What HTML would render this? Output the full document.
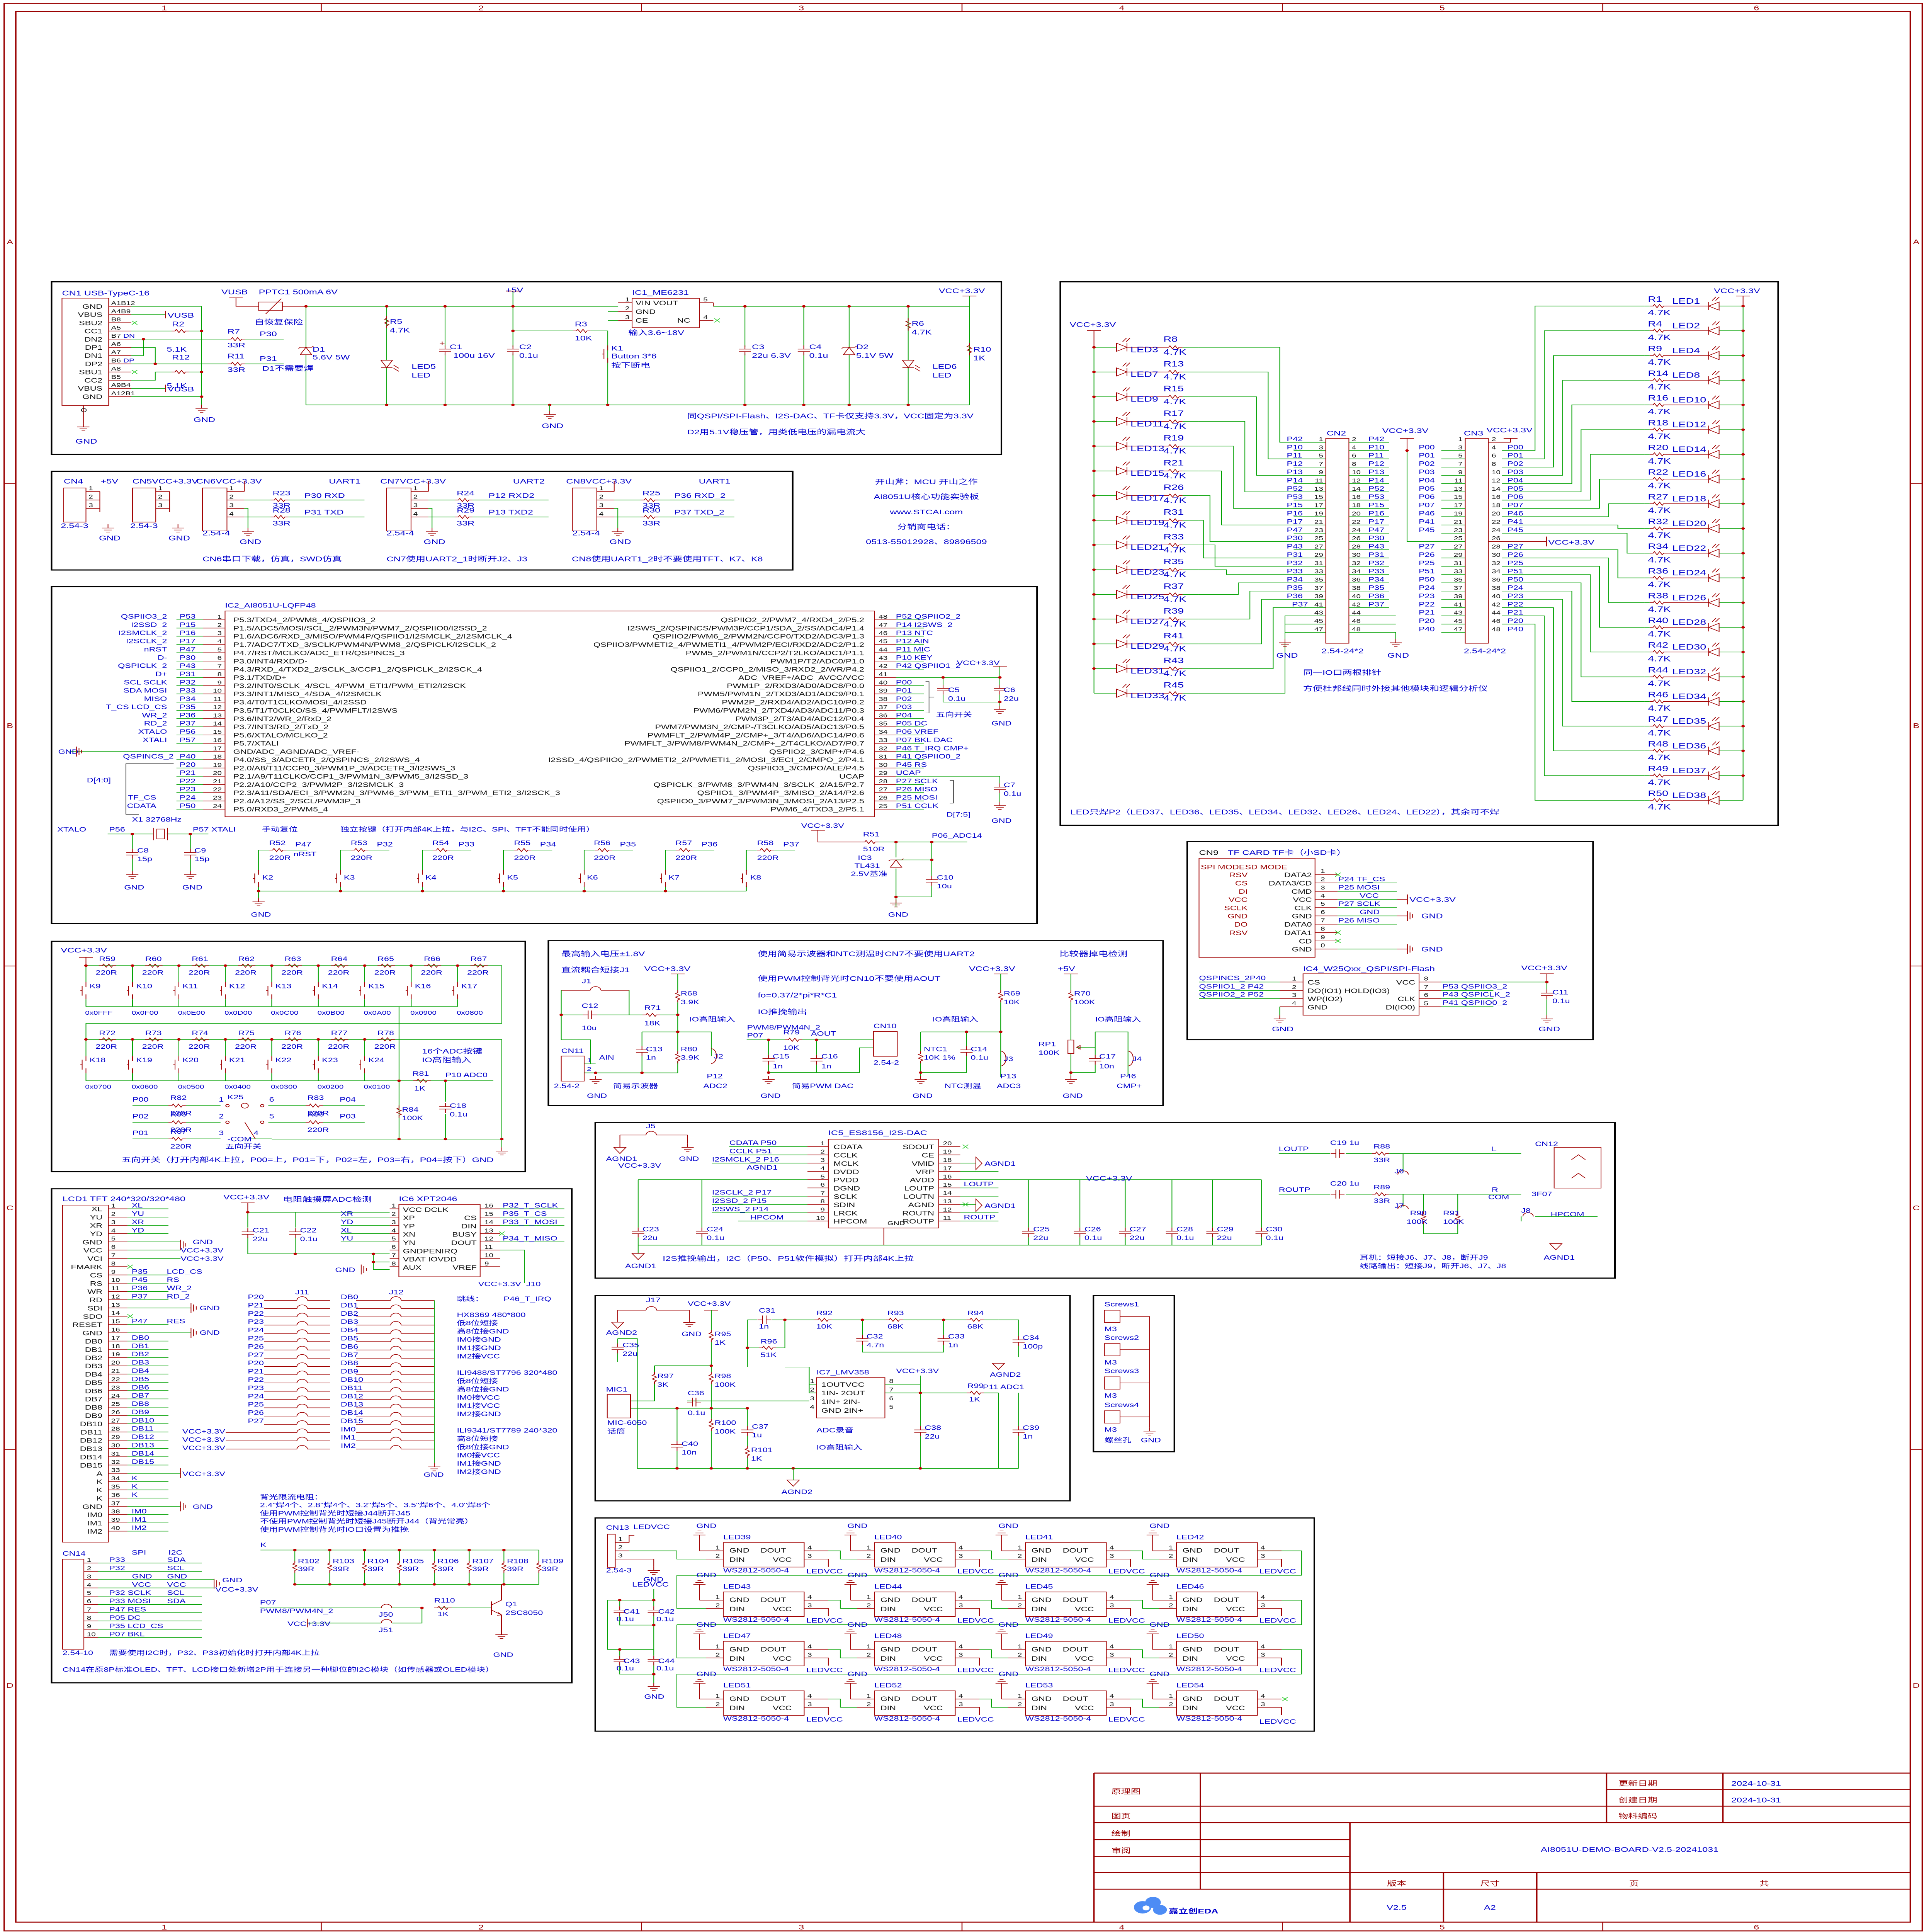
<!DOCTYPE html>
<html><head><meta charset="utf-8"><title>AI8051U-DEMO-BOARD-V2.5</title>
<style>
html,body{margin:0;padding:0;background:#fff;width:100%;height:100%;overflow:hidden}
svg{display:block;position:fixed;left:0;top:0;width:100vw;height:100vh}
.c{stroke:#a00000;stroke-width:.45;fill:none}
.cf{stroke:#a00000;stroke-width:.45;fill:#fff}
.w{stroke:#00a000;stroke-width:.45;fill:none}
.k{stroke:#000;stroke-width:.9;fill:none}
.kk{stroke:#000;stroke-width:.35;fill:none}
.f{stroke:#990000;stroke-width:.8;fill:none}
.f2{stroke:#990000;stroke-width:.55;fill:none}
.x{stroke:#33cc33;stroke-width:.45;fill:none}
text{font-family:"Liberation Sans","Noto Sans CJK SC",sans-serif;fill:#0000cc;font-size:5.6px}
.p{fill:#111}
.r{fill:#990000}
.s{font-size:4.6px}
.m{font-size:5.2px}
.e{text-anchor:end}
.mid{text-anchor:middle}
.big{font-size:6.4px}
</style></head>
<body><svg xmlns="http://www.w3.org/2000/svg" xmlns:xlink="http://www.w3.org/1999/xlink" viewBox="0 0 1108 1566" preserveAspectRatio="none">
<defs>
<path id="rh" class="c" d="M0 0h2l.75-1.3 1.5 2.6 1.5-2.6 1.5 2.6.75-1.3h2"/>
<path id="rv" class="c" d="M0 0v2l-1.3.75 2.6 1.5-2.6 1.5 2.6 1.5-1.3.75v2"/>
<path id="gnd" class="c" d="M0 0v3M-3.5 3h7M-2.2 4.6h4.4M-1 6.2h2"/>
<path id="capv" class="c" d="M0 -4v3M-3.5 -1h7M-3.5 1h7M0 1v3"/>
<path id="caph" class="c" d="M-4 0h3M-1 -3.5v7M1 -3.5v7M1 0h3"/>
<circle id="dot" r="1" fill="#c00000"/>
<g id="ledr"><path class="cf" d="M0 -3.3L6 0 0 3.3Z"/><path class="c" d="M6 -3.3v6.6M3.5 -4.5l2.2-3M5.5 -4.5l2.2-3"/></g>
<g id="ledl"><path class="cf" d="M6 -3.3L0 0 6 3.3Z"/><path class="c" d="M0 -3.3v6.6M2 -4.5l2.2-3M4 -4.5l2.2-3"/></g>
<g id="ledd"><path class="cf" d="M-3.3 0L0 6 3.3 0Z"/><path class="c" d="M-3.3 6h6.6M4 4l3 2.5M4 6.5l3 2.5"/></g>
<g id="zen"><path class="cf" d="M-3.3 3L0 -3 3.3 3Z"/><path class="c" d="M-3.3 -3h6.6l1 -1M-3.3 -3l-1 1"/></g>
<path id="sw" class="c" d="M0 0v4M-2.2 3v8M0 10v4M-2.2 7h-1"/>
<path id="gbar" class="c" d="M0 -4v8M1.5 -2.8v5.6M3 -1.4v2.8"/>
<path id="xx" class="x" d="M-1.6 -1.6l3.2 3.2M1.6 -1.6l-3.2 3.2"/>
<path id="tri" class="c" d="M-3.5 0h7L0 5Z"/>
<path id="jmp" class="c" d="M-3 0a3 3 0 0 1 6 0"/>
<g id="ws"><rect class="c" x="416.5" y="1250.3" width="46.6" height="19.9"/><path class="c" d="M402.8 1257H416.5M406.5 1263.7H416.5M402.8 1244.2V1257M463.1 1257H477M463.1 1263.7H477V1270M399.3 1244.2h7M400.5 1242.6h4.6M401.7 1241h2.2"/></g>
</defs>
<rect width="1108" height="1566" fill="#fff"/>

<!-- FRAME -->
<rect class="f" x="2.4" y="2.7" width="1104.6" height="1562.4"/>
<rect class="f" x="9.1" y="9.3" width="1091" height="1548.7"/>
<path class="f2" d="M185 2.7V9.3M369.5 2.7V9.3M554 2.7V9.3M738.5 2.7V9.3M923 2.7V9.3M185 1558V1565M369.5 1558V1565M554 1558V1565M738.5 1558V1565M923 1558V1565M2.4 392H9.1M2.4 783H9.1M2.4 1175H9.1M1100 392H1107M1100 783H1107M1100 1175H1107"/>
<text class="r mid" x="94.6" y="8.3" font-size="5">1</text><text class="r mid" x="277" y="8.3" font-size="5">2</text><text class="r mid" x="461.5" y="8.3" font-size="5">3</text><text class="r mid" x="646" y="8.3" font-size="5">4</text><text class="r mid" x="830.5" y="8.3" font-size="5">5</text><text class="r mid" x="1011.5" y="8.3" font-size="5">6</text>
<text class="r mid" x="94.6" y="1564" font-size="5">1</text><text class="r mid" x="277" y="1564" font-size="5">2</text><text class="r mid" x="461.5" y="1564" font-size="5">3</text><text class="r mid" x="646" y="1564" font-size="5">4</text><text class="r mid" x="830.5" y="1564" font-size="5">5</text><text class="r mid" x="1011.5" y="1564" font-size="5">6</text>
<text class="r mid" x="5.7" y="198" font-size="5">A</text><text class="r mid" x="5.7" y="590" font-size="5">B</text><text class="r mid" x="5.7" y="981" font-size="5">C</text><text class="r mid" x="5.7" y="1368" font-size="5">D</text>
<text class="r mid" x="1103.5" y="198" font-size="5">A</text><text class="r mid" x="1103.5" y="590" font-size="5">B</text><text class="r mid" x="1103.5" y="981" font-size="5">C</text><text class="r mid" x="1103.5" y="1368" font-size="5">D</text>

<!-- TITLE BLOCK -->
<path class="f" d="M630 1437.2H1100M925.2 1450.6H1100M630 1464H1100M630 1477.3H1100M630 1491.1H777.4M630 1504.7H777.4M630 1517.8H1100M630 1531.3H1100M630 1437.2V1558M691.3 1437.2V1531.3M925.2 1437.2V1477.3M992.2 1437.2V1477.3M777.4 1477.3V1558M831.3 1517.8V1558M885 1517.8V1558"/>
<text class="r" x="640" y="1454" font-size="9">原理图</text>
<text class="r" x="932" y="1447.5" font-size="7.5">更新日期</text>
<text x="997" y="1447.5" font-size="7.5" fill="#000080">2024-10-31</text>
<text class="r" x="932" y="1461" font-size="7.5">创建日期</text>
<text x="997" y="1461" font-size="7.5" fill="#000080">2024-10-31</text>
<text class="r" x="640" y="1474" font-size="7.5">图页</text>
<text class="r" x="932" y="1474" font-size="7.5">物料编码</text>
<text class="r" x="640" y="1488" font-size="7.5">绘制</text>
<text class="r" x="640" y="1502" font-size="7.5">审阅</text>
<text x="938.5" y="1501" font-size="11" text-anchor="middle" fill="#000080">AI8051U-DEMO-BOARD-V2.5-20241031</text>
<text class="r mid" x="804.3" y="1528.5" font-size="7.5">版本</text>
<text class="r mid" x="858" y="1528.5" font-size="7.5">尺寸</text>
<text class="r mid" x="941" y="1528.5" font-size="7.5">页</text>
<text class="r mid" x="1016" y="1528.5" font-size="7.5">共</text>
<text class="mid" x="804.3" y="1548" font-size="7" fill="#000080">V2.5</text>
<text class="mid" x="858" y="1548" font-size="7" fill="#000080">A2</text>
<g fill="#4d8cf5"><circle cx="658" cy="1546" r="5"/><circle cx="664" cy="1542" r="4.5"/><circle cx="668" cy="1548" r="4"/></g>
<circle cx="660" cy="1546.5" r="2" fill="#fff"/>
<text x="673" y="1551" font-size="13" font-weight="bold" fill="#4d8cf5">嘉立创EDA</text>

<!-- BLOCK 1 -->
<rect class="k" x="29.7" y="228.4" width="547" height="140"/>
<text x="35.7" y="239.5">CN1 USB-TypeC-16</text>
<rect class="c" x="35.7" y="241.7" width="26.9" height="86.9"/>
<text class="p e m" x="59" y="250.2">GND</text><text class="p e m" x="59" y="256.9">VBUS</text><text class="p e m" x="59" y="263.5">SBU2</text><text class="p e m" x="59" y="270.2">CC1</text><text class="p e m" x="59" y="276.8">DN2</text><text class="p e m" x="59" y="283.5">DP1</text><text class="p e m" x="59" y="290.1">DN1</text><text class="p e m" x="59" y="296.8">DP2</text><text class="p e m" x="59" y="303.4">SBU1</text><text class="p e m" x="59" y="310.1">CC2</text><text class="p e m" x="59" y="316.7">VBUS</text><text class="p e m" x="59" y="323.4">GND</text>
<path class="c" d="M62.6 248.3h13M62.6 255h13M62.6 261.6h13M62.6 268.3h13M62.6 274.9h13M62.6 281.6h13M62.6 288.2h13M62.6 294.9h13M62.6 301.5h13M62.6 308.2h13M62.6 314.8h13M62.6 321.5h13"/>
<text class="p s" x="64" y="247.2">A1B12</text><text class="p s" x="64" y="253.9">A4B9</text><text class="p s" x="64" y="260.5">B8</text><text class="p s" x="64" y="267.2">A5</text><text class="p s" x="64" y="273.8">B7</text><text class="p s" x="64" y="280.5">A6</text><text class="p s" x="64" y="287.1">A7</text><text class="p s" x="64" y="293.8">B6</text><text class="p s" x="64" y="300.4">A8</text><text class="p s" x="64" y="307.1">B5</text><text class="p s" x="64" y="313.7">A9B4</text><text class="p s" x="64" y="320.4">A12B1</text>
<text class="s" x="71" y="273.8">DN</text><text class="s" x="71" y="293.8">DP</text>
<path class="w" d="M75.6 248.3H116.1V328M75.6 321.5H116.1M75.6 255H95.3M75.6 314.8H95.3M75.6 268.3H98.8M108.8 268.3H116.1M75.6 274.9H131.1M141.1 274.9H163.4M82.6 274.9V288.2H75.6M75.6 281.6H89.4V294.9M75.6 294.9H131.1M141.1 294.9H163.4M75.6 308.2H89.4V301.5H98.8M108.8 301.5H116.1"/>
<path class="c" d="M95.3 252v6M95.3 311.8v6"/>
<text x="96.5" y="257.5">VUSB</text><text x="96.5" y="317.3">VUSB</text>
<use href="#xx" x="77.5" y="261.6"/><use href="#xx" x="77.5" y="301.5"/>
<use href="#rh" x="98.8" y="268.3"/><use href="#rh" x="98.8" y="301.5"/><use href="#rh" x="131.1" y="274.9"/><use href="#rh" x="131.1" y="294.9"/>
<text x="99" y="264.5">R2</text><text x="96" y="285">5.1K</text><text x="99" y="291.5">R12</text><text x="96" y="314.5">5.1K</text>
<text x="131" y="270.5">R7</text><text x="131" y="281.5">33R</text><text x="149.5" y="272.5">P30</text>
<text x="131" y="290.5">R11</text><text x="131" y="301.5">33R</text><text x="149.5" y="292.5">P31</text>
<use href="#dot" x="116.1" y="268.3"/><use href="#dot" x="116.1" y="301.5"/><use href="#dot" x="116.1" y="321.5"/><use href="#dot" x="82.6" y="274.9"/><use href="#dot" x="89.4" y="294.9"/>
<use href="#gnd" x="116.1" y="328"/><text x="111.5" y="342">GND</text>
<path class="c" d="M48 328.6V343"/><use href="#gnd" x="48" y="343"/><text x="43.5" y="359.5">GND</text><text class="p s" x="46.5" y="334">O</text>
<text x="127.5" y="238.5">VUSB</text><text x="149" y="238.5">PPTC1 500mA 6V</text>
<path class="c" d="M132 241.4h7.8M135.9 241.4V248.3H149M162.6 248.3H176.2M153 254.5L162 242"/>
<rect class="c" x="149" y="244.8" width="13.6" height="7"/>
<text x="146.5" y="263">自恢复保险</text>
<path class="w" d="M176.2 248.3H356M410.8 248.3H558.3M176.2 328.2H558.3M176.2 248.3V328.2M222.7 248.3V328.2M256.3 248.3V281.5M256.3 286.5V328.2M295.4 236V281.5M295.4 286.5V328.2M429 248.3V281.5M429 286.5V328.2M462.9 248.3V281.5M462.9 286.5V328.2M489 248.3V328.2M523 248.3V328.2M558.3 240V328.2M295.4 268.2H330M340 268.2H350V328.2M350 252.5H356M350 259.7H356"/>
<use href="#zen" x="176.2" y="284.5"/><text x="180" y="285">D1</text><text x="180" y="291.5">5.6V 5W</text><text x="151" y="300.5">D1不需要焊</text>
<use href="#rv" x="222.7" y="256"/><text x="224.5" y="262.5">R5</text><text x="224.5" y="269.5">4.7K</text>
<use href="#ledd" x="222.7" y="292"/><text x="237" y="299">LED5</text><text x="237" y="306">LED</text>
<use href="#capv" x="256.3" y="284"/><text x="259" y="283">C1</text><text x="261" y="290">100u 16V</text><text class="r" x="253" y="280">+</text>
<text x="291.2" y="237">+5V</text><path class="c" d="M291.4 236h8"/>
<use href="#capv" x="295.4" y="284"/><text x="299" y="283">C2</text><text x="299" y="290">0.1u</text>
<use href="#rh" x="330" y="268.2"/><text x="331" y="264.5">R3</text><text x="331" y="276">10K</text>
<use href="#sw" x="350" y="280"/><text x="352" y="284">K1</text><text x="352" y="290.5">Button 3*6</text><text x="352" y="298">按下断电</text>
<rect class="c" x="364" y="241.8" width="38.8" height="23.8"/>
<path class="c" d="M356 245.3h8M356 252.5h8M356 259.7h8M402.8 245.3h8M402.8 259.7h8M410.8 245.3v3"/>
<text x="364" y="239">IC1_ME6231</text>
<text class="p s" x="360" y="244.3">1</text><text class="p s" x="360" y="251.5">2</text><text class="p s" x="360" y="258.7">3</text><text class="p s" x="405" y="244.3">5</text><text class="p s" x="405" y="258.7">4</text>
<text class="p m" x="366" y="247.5">VIN VOUT</text><text class="p m" x="366" y="254.5">GND</text><text class="p m" x="366" y="261.5">CE</text><text class="p m" x="390" y="261.5">NC</text>
<use href="#xx" x="413" y="259.7"/>
<text x="361.8" y="271.5">输入3.6~18V</text>
<use href="#capv" x="429" y="284"/><text x="433" y="283">C3</text><text x="433" y="290">22u 6.3V</text>
<use href="#capv" x="462.9" y="284"/><text x="466" y="283">C4</text><text x="466" y="290">0.1u</text>
<use href="#zen" x="489" y="284.5"/><text x="493" y="283">D2</text><text x="493" y="290">5.1V 5W</text>
<use href="#rv" x="523" y="258"/><text x="525" y="264">R6</text><text x="525" y="271">4.7K</text>
<use href="#ledd" x="523" y="292"/><text x="537" y="299">LED6</text><text x="537" y="306">LED</text>
<use href="#rv" x="558.3" y="278"/><text x="560.5" y="285">R10</text><text x="560.5" y="292">1K</text>
<path class="c" d="M554.3 240h8"/><text x="540.6" y="237.5">VCC+3.3V</text>
<use href="#dot" x="222.7" y="248.3"/><use href="#dot" x="256.3" y="248.3"/><use href="#dot" x="295.4" y="248.3"/><use href="#dot" x="429" y="248.3"/><use href="#dot" x="462.9" y="248.3"/><use href="#dot" x="489" y="248.3"/><use href="#dot" x="523" y="248.3"/><use href="#dot" x="176.2" y="248.3"/>
<use href="#dot" x="222.7" y="328.2"/><use href="#dot" x="256.3" y="328.2"/><use href="#dot" x="295.4" y="328.2"/><use href="#dot" x="316.6" y="328.2"/><use href="#dot" x="350" y="328.2"/><use href="#dot" x="429" y="328.2"/><use href="#dot" x="462.9" y="328.2"/><use href="#dot" x="489" y="328.2"/><use href="#dot" x="523" y="328.2"/><use href="#dot" x="295.4" y="268.2"/>
<path class="w" d="M316.6 328.2V333"/><use href="#gnd" x="316.6" y="333"/><text x="312" y="347">GND</text>
<text x="395.7" y="339">同QSPI/SPI-Flash、I2S-DAC、TF卡仅支持3.3V，VCC固定为3.3V</text>
<text x="395.7" y="352">D2用5.1V稳压管，用类低电压的漏电流大</text>

<!-- BLOCK 2 -->
<rect class="k" x="29.7" y="382" width="426.8" height="80"/>
<text x="36.7" y="392">CN4</text><text x="58" y="392">+5V</text>
<rect class="c" x="36.7" y="395.5" width="12.8" height="27.7"/>
<path class="c" d="M49.5 398.4h8M49.5 405.3h8M49.5 412.1h8M57.5 398.4V415"/>
<text class="p s" x="51" y="397.3">1</text><text class="p s" x="51" y="404.2">2</text><text class="p s" x="51" y="411">3</text>
<text x="35" y="428">2.54-3</text><use href="#gnd" x="62.2" y="425"/><text x="57" y="438">GND</text>
<text x="76.3" y="392">CN5VCC+3.3V</text>
<rect class="c" x="76.3" y="395.5" width="13.4" height="27.7"/>
<path class="c" d="M89.7 398.4h8M89.7 405.3h8M89.7 412.1h8M97.7 398.4V415"/>
<text class="p s" x="91" y="397.3">1</text><text class="p s" x="91" y="404.2">2</text><text class="p s" x="91" y="411">3</text>
<text x="75" y="428">2.54-3</text><use href="#gnd" x="102.5" y="425"/><text x="97" y="438">GND</text>
<g>
<text x="113" y="392">CN6VCC+3.3V</text><text x="189.4" y="392">UART1</text>
<rect class="c" x="116.6" y="395.5" width="14.1" height="34.9"/>
<path class="c" d="M130.7 398.4h10M130.7 405.3h10M130.7 412.1h10M130.7 419h10M140.7 398.4V390"/>
<text class="p s" x="132" y="397.3">1</text><text class="p s" x="132" y="404.2">2</text><text class="p s" x="132" y="411">3</text><text class="p s" x="132" y="418">4</text>
<path class="w" d="M140.7 405.3H156M166 405.3H209.9M140.7 419H156M166 419H209.9M140.7 412.1H142.8V428"/>
<use href="#rh" x="156" y="405.3"/><use href="#rh" x="156" y="419"/>
<text x="157" y="401.5">R23</text><text x="157" y="411.5">33R</text><text x="157" y="415.5">R28</text><text x="157" y="426">33R</text>
<text x="175.3" y="403.5">P30 RXD</text><text x="175.3" y="417">P31 TXD</text>
<text x="116.6" y="434">2.54-4</text><use href="#gnd" x="142.8" y="428"/><text x="138" y="441">GND</text>
</g>
<g transform="translate(106,0)">
<text x="113" y="392">CN7VCC+3.3V</text><text x="189.4" y="392">UART2</text>
<rect class="c" x="116.6" y="395.5" width="14.1" height="34.9"/>
<path class="c" d="M130.7 398.4h10M130.7 405.3h10M130.7 412.1h10M130.7 419h10M140.7 398.4V390"/>
<text class="p s" x="132" y="397.3">1</text><text class="p s" x="132" y="404.2">2</text><text class="p s" x="132" y="411">3</text><text class="p s" x="132" y="418">4</text>
<path class="w" d="M140.7 405.3H156M166 405.3H209.9M140.7 419H156M166 419H209.9M140.7 412.1H142.8V428"/>
<use href="#rh" x="156" y="405.3"/><use href="#rh" x="156" y="419"/>
<text x="157" y="401.5">R24</text><text x="157" y="411.5">33R</text><text x="157" y="415.5">R29</text><text x="157" y="426">33R</text>
<text x="175.3" y="403.5">P12 RXD2</text><text x="175.3" y="417">P13 TXD2</text>
<text x="116.6" y="434">2.54-4</text><use href="#gnd" x="142.8" y="428"/><text x="138" y="441">GND</text>
</g>
<g transform="translate(213,0)">
<text x="113" y="392">CN8VCC+3.3V</text><text x="189.4" y="392">UART1</text>
<rect class="c" x="116.6" y="395.5" width="14.1" height="34.9"/>
<path class="c" d="M130.7 398.4h10M130.7 405.3h10M130.7 412.1h10M130.7 419h10M140.7 398.4V390"/>
<text class="p s" x="132" y="397.3">1</text><text class="p s" x="132" y="404.2">2</text><text class="p s" x="132" y="411">3</text><text class="p s" x="132" y="418">4</text>
<path class="w" d="M140.7 405.3H156M166 405.3H209.9M140.7 419H156M166 419H209.9M140.7 412.1H142.8V428"/>
<use href="#rh" x="156" y="405.3"/><use href="#rh" x="156" y="419"/>
<text x="157" y="401.5">R25</text><text x="157" y="411.5">33R</text><text x="157" y="415.5">R30</text><text x="157" y="426">33R</text>
<text x="175.3" y="403.5">P36 RXD_2</text><text x="175.3" y="417">P37 TXD_2</text>
<text x="116.6" y="434">2.54-4</text><use href="#gnd" x="142.8" y="428"/><text x="138" y="441">GND</text>
</g>
<text x="116.6" y="455">CN6串口下载，仿真，SWD仿真</text>
<text x="222.6" y="455">CN7使用UART2_1时断开J2、J3</text>
<text x="329.3" y="455">CN8使用UART1_2时不要使用TFT、K7、K8</text>

<text x="533.5" y="392.5" font-size="10.5" fill="#0000ff" text-anchor="middle">开山斧：MCU 开山之作</text>
<text x="533.5" y="404.5" font-size="10.5" fill="#0000ff" text-anchor="middle">Ai8051U核心功能实验板</text>
<text x="533.5" y="416.8" font-size="10.5" fill="#0000ff" text-anchor="middle">www.STCAI.com</text>
<text x="533.5" y="429" font-size="10.5" fill="#0000ff" text-anchor="middle">分销商电话：</text>
<text x="533.5" y="441" font-size="10.5" fill="#0000ff" text-anchor="middle">0513-55012928、89896509</text>

<!-- BLOCK 3 -->
<rect class="k" x="29.7" y="475.5" width="567.5" height="273.1"/>
<text class="m" x="129.6" y="492.5">IC2_AI8051U-LQFP48</text>
<rect class="c" x="129.6" y="495.3" width="373.9" height="166.7"/>
<path class="w" d="M101.6 502.4h15.4M101.6 509.1h15.4M101.6 515.7h15.4M101.6 522.4h15.4M101.6 529.1h15.4M101.6 535.8h15.4M101.6 542.4h15.4M101.6 549.1h15.4M101.6 555.8h15.4M101.6 562.4h15.4M101.6 569.1h15.4M101.6 575.8h15.4M101.6 582.5h15.4M101.6 589.1h15.4M101.6 595.8h15.4M101.6 602.5h15.4M40 609.2h77M101.6 615.8h15.4M101.6 622.5h15.4M101.6 629.2h15.4M101.6 635.9h15.4M101.6 642.5h15.4M101.6 649.2h15.4M101.6 655.9h15.4"/>
<path class="c" d="M117 502.4h12.6M117 509.1h12.6M117 515.7h12.6M117 522.4h12.6M117 529.1h12.6M117 535.8h12.6M117 542.4h12.6M117 549.1h12.6M117 555.8h12.6M117 562.4h12.6M117 569.1h12.6M117 575.8h12.6M117 582.5h12.6M117 589.1h12.6M117 595.8h12.6M117 602.5h12.6M117 609.2h12.6M117 615.8h12.6M117 622.5h12.6M117 629.2h12.6M117 635.9h12.6M117 642.5h12.6M117 649.2h12.6M117 655.9h12.6"/>
<path class="c" d="M503.5 502.4h12.5M503.5 509.1h12.5M503.5 515.7h12.5M503.5 522.4h12.5M503.5 529.1h12.5M503.5 535.8h12.5M503.5 542.4h12.5M503.5 549.1h12.5M503.5 555.8h12.5M503.5 562.4h12.5M503.5 569.1h12.5M503.5 575.8h12.5M503.5 582.5h12.5M503.5 589.1h12.5M503.5 595.8h12.5M503.5 602.5h12.5M503.5 609.2h12.5M503.5 615.8h12.5M503.5 622.5h12.5M503.5 629.2h12.5M503.5 635.9h12.5M503.5 642.5h12.5M503.5 649.2h12.5M503.5 655.9h12.5"/>
<path class="w" d="M516 502.4h16M516 509.1h16M516 515.7h16M516 522.4h16M516 529.1h16M516 535.8h16M516 542.4h16M516 549.1H575.8M516 555.8h16M516 562.4h16M516 569.1h16M516 575.8h16M516 582.5h16M516 589.1h16M516 595.8h16M516 602.5h16M516 609.2h16M516 615.8h16M516 622.5h16M516 629.2H575.8M516 635.9h16M516 642.5h16M516 649.2h16M516 655.9h16M543.1 549.1V555M543.1 563V569H575.8M575.8 540V555M575.8 563V572M575.8 629.2V635M575.8 643V650"/>
<text class="p e s" x="127.7" y="501.4">1</text><text class="p e s" x="127.7" y="508.1">2</text><text class="p e s" x="127.7" y="514.7">3</text><text class="p e s" x="127.7" y="521.4">4</text><text class="p e s" x="127.7" y="528.1">5</text><text class="p e s" x="127.7" y="534.8">6</text><text class="p e s" x="127.7" y="541.4">7</text><text class="p e s" x="127.7" y="548.1">8</text><text class="p e s" x="127.7" y="554.8">9</text><text class="p e s" x="127.7" y="561.4">10</text><text class="p e s" x="127.7" y="568.1">11</text><text class="p e s" x="127.7" y="574.8">12</text><text class="p e s" x="127.7" y="581.5">13</text><text class="p e s" x="127.7" y="588.1">14</text><text class="p e s" x="127.7" y="594.8">15</text><text class="p e s" x="127.7" y="601.5">16</text><text class="p e s" x="127.7" y="608.2">17</text><text class="p e s" x="127.7" y="614.8">18</text><text class="p e s" x="127.7" y="621.5">19</text><text class="p e s" x="127.7" y="628.2">20</text><text class="p e s" x="127.7" y="634.9">21</text><text class="p e s" x="127.7" y="641.5">22</text><text class="p e s" x="127.7" y="648.2">23</text><text class="p e s" x="127.7" y="654.9">24</text>
<text class="m" x="103.4" y="501.4">P53</text><text class="m" x="103.4" y="508.1">P15</text><text class="m" x="103.4" y="514.7">P16</text><text class="m" x="103.4" y="521.4">P17</text><text class="m" x="103.4" y="528.1">P47</text><text class="m" x="103.4" y="534.8">P30</text><text class="m" x="103.4" y="541.4">P43</text><text class="m" x="103.4" y="548.1">P31</text><text class="m" x="103.4" y="554.8">P32</text><text class="m" x="103.4" y="561.4">P33</text><text class="m" x="103.4" y="568.1">P34</text><text class="m" x="103.4" y="574.8">P35</text><text class="m" x="103.4" y="581.5">P36</text><text class="m" x="103.4" y="588.1">P37</text><text class="m" x="103.4" y="594.8">P56</text><text class="m" x="103.4" y="601.5">P57</text><text class="m" x="103.4" y="614.8">P40</text><text class="m" x="103.4" y="621.5">P20</text><text class="m" x="103.4" y="628.2">P21</text><text class="m" x="103.4" y="634.9">P22</text><text class="m" x="103.4" y="641.5">P23</text><text class="m" x="103.4" y="648.2">P24</text><text class="m" x="103.4" y="654.9">P50</text>
<text class="e m" x="96.2" y="501.4">QSPIIO3_2</text><text class="e m" x="96.2" y="508.1">I2SSD_2</text><text class="e m" x="96.2" y="514.7">I2SMCLK_2</text><text class="e m" x="96.2" y="521.4">I2SCLK_2</text><text class="e m" x="96.2" y="528.1">nRST</text><text class="e m" x="96.2" y="534.8">D-</text><text class="e m" x="96.2" y="541.4">QSPICLK_2</text><text class="e m" x="96.2" y="548.1">D+</text><text class="e m" x="96.2" y="554.8">SCL  SCLK</text><text class="e m" x="96.2" y="561.4">SDA  MOSI</text><text class="e m" x="96.2" y="568.1">MISO</text><text class="e m" x="96.2" y="574.8">T_CS LCD_CS</text><text class="e m" x="96.2" y="581.5">WR_2</text><text class="e m" x="96.2" y="588.1">RD_2</text><text class="e m" x="96.2" y="594.8">XTALO</text><text class="e m" x="96.2" y="601.5">XTALI</text><text class="e m" x="100" y="614.8">QSPINCS_2</text><text class="e m" x="90" y="648.2">TF_CS</text><text class="e m" x="90" y="654.9">CDATA</text>
<text class="m" x="33.5" y="611">GND</text><use href="#gbar" x="44" y="609.2"/>
<path class="kk" d="M100 619H72.5V660H80"/><text class="m" x="50" y="634">D[4:0]</text>
<text class="p m" x="134.3" y="504.3">P5.3/TXD4_2/PWM8_4/QSPIIO3_2</text>
<text class="p m" x="134.3" y="511">P1.5/ADC5/MOSI/SCL_2/PWM3N/PWM7_2/QSPIIO0/I2SSD_2</text>
<text class="p m" x="134.3" y="517.6">P1.6/ADC6/RXD_3/MISO/PWM4P/QSPIIO1/I2SMCLK_2/I2SMCLK_4</text>
<text class="p m" x="134.3" y="524.3">P1.7/ADC7/TXD_3/SCLK/PWM4N/PWM8_2/QSPICLK/I2SCLK_2</text>
<text class="p m" x="134.3" y="531">P4.7/RST/MCLKO/ADC_ETR/QSPINCS_3</text>
<text class="p m" x="134.3" y="537.7">P3.0/INT4/RXD/D-</text>
<text class="p m" x="134.3" y="544.3">P4.3/RXD_4/TXD2_2/SCLK_3/CCP1_2/QSPICLK_2/I2SCK_4</text>
<text class="p m" x="134.3" y="551">P3.1/TXD/D+</text>
<text class="p m" x="134.3" y="557.7">P3.2/INT0/SCLK_4/SCL_4/PWM_ETI1/PWM_ETI2/I2SCK</text>
<text class="p m" x="134.3" y="564.3">P3.3/INT1/MISO_4/SDA_4/I2SMCLK</text>
<text class="p m" x="134.3" y="571">P3.4/T0/T1CLKO/MOSI_4/I2SSD</text>
<text class="p m" x="134.3" y="577.7">P3.5/T1/T0CLKO/SS_4/PWMFLT/I2SWS</text>
<text class="p m" x="134.3" y="584.4">P3.6/INT2/WR_2/RxD_2</text>
<text class="p m" x="134.3" y="591">P3.7/INT3/RD_2/TxD_2</text>
<text class="p m" x="134.3" y="597.7">P5.6/XTALO/MCLKO_2</text>
<text class="p m" x="134.3" y="604.4">P5.7/XTALI</text>
<text class="p m" x="134.3" y="611.1">GND/ADC_AGND/ADC_VREF-</text>
<text class="p m" x="134.3" y="617.7">P4.0/SS_3/ADCETR_2/QSPINCS_2/I2SWS_4</text>
<text class="p m" x="134.3" y="624.4">P2.0/A8/T11/CCP0_3/PWM1P_3/ADCETR_3/I2SWS_3</text>
<text class="p m" x="134.3" y="631.1">P2.1/A9/T11CLKO/CCP1_3/PWM1N_3/PWM5_3/I2SSD_3</text>
<text class="p m" x="134.3" y="637.8">P2.2/A10/CCP2_3/PWM2P_3/I2SMCLK_3</text>
<text class="p m" x="134.3" y="644.4">P2.3/A11/SDA/ECI_3/PWM2N_3/PWM6_3/PWM_ETI1_3/PWM_ETI2_3/I2SCK_3</text>
<text class="p m" x="134.3" y="651.1">P2.4/A12/SS_2/SCL/PWM3P_3</text>
<text class="p m" x="134.3" y="657.8">P5.0/RXD3_2/PWM5_4</text>
<text class="p m e" x="497.7" y="504.3">QSPIIO2_2/PWM7_4/RXD4_2/P5.2</text>
<text class="p m e" x="497.7" y="511">I2SWS_2/QSPINCS/PWM3P/CCP1/SDA_2/SS/ADC4/P1.4</text>
<text class="p m e" x="497.7" y="517.6">QSPIIO2/PWM6_2/PWM2N/CCP0/TXD2/ADC3/P1.3</text>
<text class="p m e" x="497.7" y="524.3">QSPIIO3/PWMETI2_4/PWMETI1_4/PWM2P/ECI/RXD2/ADC2/P1.2</text>
<text class="p m e" x="497.7" y="531">PWM5_2/PWM1N/CCP2/T2LKO/ADC1/P1.1</text>
<text class="p m e" x="497.7" y="537.7">PWM1P/T2/ADC0/P1.0</text>
<text class="p m e" x="497.7" y="544.3">QSPIIO1_2/CCP0_2/MISO_3/RXD2_2/WR/P4.2</text>
<text class="p m e" x="497.7" y="551">ADC_VREF+/ADC_AVCC/VCC</text>
<text class="p m e" x="497.7" y="557.7">PWM1P_2/RXD3/AD0/ADC8/P0.0</text>
<text class="p m e" x="497.7" y="564.3">PWM5/PWM1N_2/TXD3/AD1/ADC9/P0.1</text>
<text class="p m e" x="497.7" y="571">PWM2P_2/RXD4/AD2/ADC10/P0.2</text>
<text class="p m e" x="497.7" y="577.7">PWM6/PWM2N_2/TXD4/AD3/ADC11/P0.3</text>
<text class="p m e" x="497.7" y="584.4">PWM3P_2/T3/AD4/ADC12/P0.4</text>
<text class="p m e" x="497.7" y="591">PWM7/PWM3N_2/CMP-/T3CLKO/AD5/ADC13/P0.5</text>
<text class="p m e" x="497.7" y="597.7">PWMFLT_2/PWM4P_2/CMP+_3/T4/AD6/ADC14/P0.6</text>
<text class="p m e" x="497.7" y="604.4">PWMFLT_3/PWM8/PWM4N_2/CMP+_2/T4CLKO/AD7/P0.7</text>
<text class="p m e" x="497.7" y="611.1">QSPIIO2_3/CMP+/P4.6</text>
<text class="p m e" x="497.7" y="617.7">I2SSD_4/QSPIIO0_2/PWMETI2_2/PWMETI1_2/MOSI_3/ECI_2/CMPO_2/P4.1</text>
<text class="p m e" x="497.7" y="624.4">QSPIIO3_3/CMPO/ALE/P4.5</text>
<text class="p m e" x="497.7" y="631.1">UCAP</text>
<text class="p m e" x="497.7" y="637.8">QSPICLK_3/PWM8_3/PWM4N_3/SCLK_2/A15/P2.7</text>
<text class="p m e" x="497.7" y="644.4">QSPIIO1_3/PWM4P_3/MISO_2/A14/P2.6</text>
<text class="p m e" x="497.7" y="651.1">QSPIIO0_3/PWM7_3/PWM3N_3/MOSI_2/A13/P2.5</text>
<text class="p m e" x="497.7" y="657.8">PWM6_4/TXD3_2/P5.1</text>
<text class="p s" x="506" y="501.4">48</text><text class="p s" x="506" y="508.1">47</text><text class="p s" x="506" y="514.7">46</text><text class="p s" x="506" y="521.4">45</text><text class="p s" x="506" y="528.1">44</text><text class="p s" x="506" y="534.8">43</text><text class="p s" x="506" y="541.4">42</text><text class="p s" x="506" y="548.1">41</text><text class="p s" x="506" y="554.8">40</text><text class="p s" x="506" y="561.4">39</text><text class="p s" x="506" y="568.1">38</text><text class="p s" x="506" y="574.8">37</text><text class="p s" x="506" y="581.5">36</text><text class="p s" x="506" y="588.1">35</text><text class="p s" x="506" y="594.8">34</text><text class="p s" x="506" y="601.5">33</text><text class="p s" x="506" y="608.2">32</text><text class="p s" x="506" y="614.8">31</text><text class="p s" x="506" y="621.5">30</text><text class="p s" x="506" y="628.2">29</text><text class="p s" x="506" y="634.9">28</text><text class="p s" x="506" y="641.5">27</text><text class="p s" x="506" y="648.2">26</text><text class="p s" x="506" y="654.9">25</text>
<text class="m" x="515.9" y="501.4">P52 QSPIIO2_2</text><text class="m" x="515.9" y="508.1">P14 I2SWS_2</text><text class="m" x="515.9" y="514.7">P13 NTC</text><text class="m" x="515.9" y="521.4">P12 AIN</text><text class="m" x="515.9" y="528.1">P11 MIC</text><text class="m" x="515.9" y="534.8">P10 KEY</text><text class="m" x="515.9" y="541.4">P42 QSPIIO1_2</text><text class="m" x="515.9" y="554.8">P00</text><text class="m" x="515.9" y="561.4">P01</text><text class="m" x="515.9" y="568.1">P02</text><text class="m" x="515.9" y="574.8">P03</text><text class="m" x="515.9" y="581.5">P04</text><text class="m" x="515.9" y="588.1">P05 DC</text><text class="m" x="515.9" y="594.8">P06 VREF</text><text class="m" x="515.9" y="601.5">P07 BKL   DAC</text><text class="m" x="515.9" y="608.2">P46 T_IRQ CMP+</text><text class="m" x="515.9" y="614.8">P41 QSPIIO0_2</text><text class="m" x="515.9" y="621.5">P45 RS</text><text class="m" x="515.9" y="628.2">UCAP</text><text class="m" x="515.9" y="634.9">P27 SCLK</text><text class="m" x="515.9" y="641.5">P26 MISO</text><text class="m" x="515.9" y="648.2">P25 MOSI</text><text class="m" x="515.9" y="654.9">P51 CCLK</text>
<text class="m" x="551" y="539">VCC+3.3V</text><path class="c" d="M571.8 540h8"/>
<use href="#capv" x="543.1" y="559"/><use href="#capv" x="575.8" y="559"/>
<text class="m" x="546" y="561">C5</text><text class="m" x="546" y="568">0.1u</text><text class="m" x="578" y="561">C6</text><text class="m" x="578" y="568">22u</text>
<use href="#dot" x="543.1" y="549.1"/><use href="#dot" x="575.8" y="549.1"/><use href="#dot" x="575.8" y="569"/>
<use href="#gnd" x="575.8" y="572"/><text class="m" x="571" y="588">GND</text>
<path class="kk" d="M533 552.5h2V578h-2M535 565h3"/><text class="m" x="539" y="581">五向开关</text>
<use href="#capv" x="575.8" y="639"/><text class="m" x="578" y="638">C7</text><text class="m" x="578" y="645">0.1u</text>
<use href="#gnd" x="575.8" y="650"/><text class="m" x="571" y="667">GND</text>
<path class="kk" d="M547 632.5h2V651h-2"/><text class="m" x="545" y="662">D[7:5]</text>
<text class="m" x="33" y="674">XTALO</text><text class="m" x="62.8" y="674">P56</text><text class="m" x="76" y="666">X1  32768Hz</text><text class="m" x="111" y="674">P57 XTALI</text>
<path class="w" d="M62 676H88M96 676H120M76.2 676V688M109.6 676V688M76.2 696V706M109.6 696V706"/>
<rect class="c" x="90.3" y="672" width="4.4" height="8"/><path class="c" d="M88.5 671v10M96.5 671v10"/>
<use href="#capv" x="76.2" y="692"/><use href="#capv" x="109.6" y="692"/>
<text class="m" x="79" y="691">C8</text><text class="m" x="79" y="698">15p</text><text class="m" x="112" y="691">C9</text><text class="m" x="112" y="698">15p</text>
<use href="#dot" x="76.2" y="676"/><use href="#dot" x="109.6" y="676"/>
<use href="#gnd" x="76.2" y="706"/><use href="#gnd" x="109.6" y="706"/><text class="m" x="71.5" y="721">GND</text><text class="m" x="105" y="721">GND</text>
<text class="m" x="150.7" y="674">手动复位</text>
<text class="m" x="196" y="674">独立按键（打开内部4K上拉，与I2C、SPI、TFT不能同时使用）</text>
<path class="w" d="M148.9 722.3H429.8M148.9 689V706M148.9 718V728M196.1 689V706M196.1 718V722.3M243.3 689V706M243.3 718V722.3M289.9 689V706M289.9 718V722.3M336.4 689V706M336.4 718V722.3M383.2 689V706M383.2 718V722.3M429.8 689V706M429.8 718V722.3"/>
<path class="w" d="M148.9 689h6M165 689h12M196.1 689h6M212.2 689h12M243.3 689h6M259.4 689h12M289.9 689h6M306 689h12M336.4 689h6M352.5 689h12M383.2 689h6M399.3 689h12M429.8 689h6M445.9 689h12"/>
<use href="#rh" x="155" y="689"/><use href="#rh" x="202.2" y="689"/><use href="#rh" x="249.4" y="689"/><use href="#rh" x="296" y="689"/><use href="#rh" x="342.5" y="689"/><use href="#rh" x="389.3" y="689"/><use href="#rh" x="435.9" y="689"/>
<use href="#sw" x="148.9" y="705"/><use href="#sw" x="196.1" y="705"/><use href="#sw" x="243.3" y="705"/><use href="#sw" x="289.9" y="705"/><use href="#sw" x="336.4" y="705"/><use href="#sw" x="383.2" y="705"/><use href="#sw" x="429.8" y="705"/>
<text class="m" x="155" y="685">R52</text><text class="m" x="155" y="697">220R</text><text class="m" x="170" y="686">P47</text><text class="m" x="169" y="694">nRST</text><text class="m" x="151" y="713">K2</text>
<text class="m" x="202" y="685">R53</text><text class="m" x="202" y="697">220R</text><text class="m" x="217" y="686">P32</text><text class="m" x="198" y="713">K3</text>
<text class="m" x="249" y="685">R54</text><text class="m" x="249" y="697">220R</text><text class="m" x="264" y="686">P33</text><text class="m" x="245" y="713">K4</text>
<text class="m" x="296" y="685">R55</text><text class="m" x="296" y="697">220R</text><text class="m" x="311" y="686">P34</text><text class="m" x="292" y="713">K5</text>
<text class="m" x="342" y="685">R56</text><text class="m" x="342" y="697">220R</text><text class="m" x="357" y="686">P35</text><text class="m" x="338" y="713">K6</text>
<text class="m" x="389" y="685">R57</text><text class="m" x="389" y="697">220R</text><text class="m" x="404" y="686">P36</text><text class="m" x="385" y="713">K7</text>
<text class="m" x="436" y="685">R58</text><text class="m" x="436" y="697">220R</text><text class="m" x="451" y="686">P37</text><text class="m" x="432" y="713">K8</text>
<use href="#dot" x="196.1" y="722.3"/><use href="#dot" x="243.3" y="722.3"/><use href="#dot" x="289.9" y="722.3"/><use href="#dot" x="336.4" y="722.3"/><use href="#dot" x="383.2" y="722.3"/><use href="#dot" x="148.9" y="722.3"/>
<use href="#gnd" x="148.9" y="728"/><text class="m" x="144.5" y="743">GND</text>
<text class="m" x="461.4" y="671">VCC+3.3V</text>
<path class="c" d="M467 673h8M471 673V682.5H496"/><use href="#rh" x="496" y="682.5"/>
<path class="w" d="M506 682.5H557M516 682.5V695M536.6 682.5V710M516 704V735M536.6 718V727H516"/>
<text class="m" x="497" y="678">R51</text><text class="m" x="497" y="690">510R</text><text class="m" x="536.6" y="679">P06_ADC14</text>
<use href="#zen" x="516" y="700"/><path class="w" d="M516 697H536.6"/>
<text class="m" x="494" y="697">IC3</text><text class="m" x="492" y="703.5">TL431</text><text class="m" x="490" y="710">2.5V基准</text>
<use href="#capv" x="536.6" y="714"/><text class="m" x="539.5" y="713">C10</text><text class="m" x="539.5" y="720">10u</text>
<use href="#dot" x="516" y="682.5"/><use href="#dot" x="536.6" y="682.5"/><use href="#dot" x="536.6" y="697"/><use href="#dot" x="516" y="727"/>
<use href="#gnd" x="516" y="729"/><text class="m" x="511.5" y="743">GND</text>

<!-- BLOCK 4 -->
<rect class="k" x="610.6" y="228.4" width="413.4" height="440.6"/>
<text x="616" y="265">VCC+3.3V</text>
<path class="c" d="M626 268h8M630 268V281.5"/>
<path class="w" d="M630 281.5V561.9"/>
<g transform="translate(0,281.5)"><path class="w" d="M630 0H643M681 0H690"/><use href="#ledr" x="643" y="0"/><path class="c" d="M649 0H671"/><use href="#rh" x="671" y="0"/><use href="#dot" x="630" y="0"/><text class="big" x="670" y="-4.5">R8</text><text class="big" x="670" y="6">4.7K</text><text class="big" x="651" y="4">LED3</text></g>
<g transform="translate(0,301.5)"><path class="w" d="M630 0H643M681 0H690"/><use href="#ledr" x="643" y="0"/><path class="c" d="M649 0H671"/><use href="#rh" x="671" y="0"/><use href="#dot" x="630" y="0"/><text class="big" x="670" y="-4.5">R13</text><text class="big" x="670" y="6">4.7K</text><text class="big" x="651" y="4">LED7</text></g>
<g transform="translate(0,321.6)"><path class="w" d="M630 0H643M681 0H690"/><use href="#ledr" x="643" y="0"/><path class="c" d="M649 0H671"/><use href="#rh" x="671" y="0"/><use href="#dot" x="630" y="0"/><text class="big" x="670" y="-4.5">R15</text><text class="big" x="670" y="6">4.7K</text><text class="big" x="651" y="4">LED9</text></g>
<g transform="translate(0,341.6)"><path class="w" d="M630 0H643M681 0H690"/><use href="#ledr" x="643" y="0"/><path class="c" d="M649 0H671"/><use href="#rh" x="671" y="0"/><use href="#dot" x="630" y="0"/><text class="big" x="670" y="-4.5">R17</text><text class="big" x="670" y="6">4.7K</text><text class="big" x="651" y="4">LED11</text></g>
<g transform="translate(0,361.6)"><path class="w" d="M630 0H643M681 0H690"/><use href="#ledr" x="643" y="0"/><path class="c" d="M649 0H671"/><use href="#rh" x="671" y="0"/><use href="#dot" x="630" y="0"/><text class="big" x="670" y="-4.5">R19</text><text class="big" x="670" y="6">4.7K</text><text class="big" x="651" y="4">LED13</text></g>
<g transform="translate(0,381.7)"><path class="w" d="M630 0H643M681 0H690"/><use href="#ledr" x="643" y="0"/><path class="c" d="M649 0H671"/><use href="#rh" x="671" y="0"/><use href="#dot" x="630" y="0"/><text class="big" x="670" y="-4.5">R21</text><text class="big" x="670" y="6">4.7K</text><text class="big" x="651" y="4">LED15</text></g>
<g transform="translate(0,401.7)"><path class="w" d="M630 0H643M681 0H690"/><use href="#ledr" x="643" y="0"/><path class="c" d="M649 0H671"/><use href="#rh" x="671" y="0"/><use href="#dot" x="630" y="0"/><text class="big" x="670" y="-4.5">R26</text><text class="big" x="670" y="6">4.7K</text><text class="big" x="651" y="4">LED17</text></g>
<g transform="translate(0,421.7)"><path class="w" d="M630 0H643M681 0H690"/><use href="#ledr" x="643" y="0"/><path class="c" d="M649 0H671"/><use href="#rh" x="671" y="0"/><use href="#dot" x="630" y="0"/><text class="big" x="670" y="-4.5">R31</text><text class="big" x="670" y="6">4.7K</text><text class="big" x="651" y="4">LED19</text></g>
<g transform="translate(0,441.7)"><path class="w" d="M630 0H643M681 0H690"/><use href="#ledr" x="643" y="0"/><path class="c" d="M649 0H671"/><use href="#rh" x="671" y="0"/><use href="#dot" x="630" y="0"/><text class="big" x="670" y="-4.5">R33</text><text class="big" x="670" y="6">4.7K</text><text class="big" x="651" y="4">LED21</text></g>
<g transform="translate(0,461.8)"><path class="w" d="M630 0H643M681 0H690"/><use href="#ledr" x="643" y="0"/><path class="c" d="M649 0H671"/><use href="#rh" x="671" y="0"/><use href="#dot" x="630" y="0"/><text class="big" x="670" y="-4.5">R35</text><text class="big" x="670" y="6">4.7K</text><text class="big" x="651" y="4">LED23</text></g>
<g transform="translate(0,481.8)"><path class="w" d="M630 0H643M681 0H690"/><use href="#ledr" x="643" y="0"/><path class="c" d="M649 0H671"/><use href="#rh" x="671" y="0"/><use href="#dot" x="630" y="0"/><text class="big" x="670" y="-4.5">R37</text><text class="big" x="670" y="6">4.7K</text><text class="big" x="651" y="4">LED25</text></g>
<g transform="translate(0,501.8)"><path class="w" d="M630 0H643M681 0H690"/><use href="#ledr" x="643" y="0"/><path class="c" d="M649 0H671"/><use href="#rh" x="671" y="0"/><use href="#dot" x="630" y="0"/><text class="big" x="670" y="-4.5">R39</text><text class="big" x="670" y="6">4.7K</text><text class="big" x="651" y="4">LED27</text></g>
<g transform="translate(0,521.9)"><path class="w" d="M630 0H643M681 0H690"/><use href="#ledr" x="643" y="0"/><path class="c" d="M649 0H671"/><use href="#rh" x="671" y="0"/><use href="#dot" x="630" y="0"/><text class="big" x="670" y="-4.5">R41</text><text class="big" x="670" y="6">4.7K</text><text class="big" x="651" y="4">LED29</text></g>
<g transform="translate(0,541.9)"><path class="w" d="M630 0H643M681 0H690"/><use href="#ledr" x="643" y="0"/><path class="c" d="M649 0H671"/><use href="#rh" x="671" y="0"/><use href="#dot" x="630" y="0"/><text class="big" x="670" y="-4.5">R43</text><text class="big" x="670" y="6">4.7K</text><text class="big" x="651" y="4">LED31</text></g>
<g transform="translate(0,561.9)"><path class="w" d="M630 0H643M681 0H690"/><use href="#ledr" x="643" y="0"/><path class="c" d="M649 0H671"/><use href="#rh" x="671" y="0"/><text class="big" x="670" y="-4.5">R45</text><text class="big" x="670" y="6">4.7K</text><text class="big" x="651" y="4">LED33</text></g>
<path class="w" d="M690 281.5H737V358.5H763.5M690 301.5H730.3V371.9H763.5M690 321.6H723.6V385.3H763.5M690 341.6H716.9V398.7H763.5M690 361.6H710.2V412.1H763.5M690 381.7H703.5V425.5H763.5M690 401.7H696.8V438.9H763.5M690 421.7H693V452.3H763.5M690 441.7H699.7V459H763.5M690 461.8H706.4V465.7H763.5M690 481.8H713.1V472.4H763.5M690 501.8H719.8V479.1H763.5M690 521.9H726.5V485.8H763.5M690 541.9H733.2V492.5H763.5M690 561.9H740V499.2H763.5M740 505.9H763.5M740 512.6H763.5M740 505.9V518"/>
<path class="w" d="M745 365.2H763.5M745 378.6H763.5M745 392H763.5M745 405.4H763.5M745 418.8H763.5M745 432.2H763.5M745 445.6H763.5"/>
<use href="#gnd" x="740" y="518"/><text x="735" y="533">GND</text>
<rect class="c" x="763.5" y="355.4" width="13.3" height="166"/>
<text x="764" y="353">CN2</text><text x="761" y="529.5">2.54-24*2</text>
<text class="p s e" x="762" y="357.5">1</text><text class="p s e" x="762" y="364.2">3</text><text class="p s e" x="762" y="370.9">5</text><text class="p s e" x="762" y="377.6">7</text><text class="p s e" x="762" y="384.3">9</text><text class="p s e" x="762" y="391">11</text><text class="p s e" x="762" y="397.7">13</text><text class="p s e" x="762" y="404.4">15</text><text class="p s e" x="762" y="411.1">17</text><text class="p s e" x="762" y="417.8">19</text><text class="p s e" x="762" y="424.5">21</text><text class="p s e" x="762" y="431.2">23</text><text class="p s e" x="762" y="437.9">25</text><text class="p s e" x="762" y="444.6">27</text><text class="p s e" x="762" y="451.3">29</text><text class="p s e" x="762" y="458">31</text><text class="p s e" x="762" y="464.7">33</text><text class="p s e" x="762" y="471.4">35</text><text class="p s e" x="762" y="478.1">37</text><text class="p s e" x="762" y="484.8">39</text><text class="p s e" x="762" y="491.5">41</text><text class="p s e" x="762" y="498.2">43</text><text class="p s e" x="762" y="504.9">45</text><text class="p s e" x="762" y="511.6">47</text>
<text class="p s" x="778.5" y="357.5">2</text><text class="p s" x="778.5" y="364.2">4</text><text class="p s" x="778.5" y="370.9">6</text><text class="p s" x="778.5" y="377.6">8</text><text class="p s" x="778.5" y="384.3">10</text><text class="p s" x="778.5" y="391">12</text><text class="p s" x="778.5" y="397.7">14</text><text class="p s" x="778.5" y="404.4">16</text><text class="p s" x="778.5" y="411.1">18</text><text class="p s" x="778.5" y="417.8">20</text><text class="p s" x="778.5" y="424.5">22</text><text class="p s" x="778.5" y="431.2">24</text><text class="p s" x="778.5" y="437.9">26</text><text class="p s" x="778.5" y="444.6">28</text><text class="p s" x="778.5" y="451.3">30</text><text class="p s" x="778.5" y="458">32</text><text class="p s" x="778.5" y="464.7">34</text><text class="p s" x="778.5" y="471.4">36</text><text class="p s" x="778.5" y="478.1">38</text><text class="p s" x="778.5" y="484.8">40</text><text class="p s" x="778.5" y="491.5">42</text><text class="p s" x="778.5" y="498.2">44</text><text class="p s" x="778.5" y="504.9">46</text><text class="p s" x="778.5" y="511.6">48</text>
<text class="m" x="741" y="357.5">P42</text><text class="m" x="741" y="364.2">P10</text><text class="m" x="741" y="370.9">P11</text><text class="m" x="741" y="377.6">P12</text><text class="m" x="741" y="384.3">P13</text><text class="m" x="741" y="391">P14</text><text class="m" x="741" y="397.7">P52</text><text class="m" x="741" y="404.4">P53</text><text class="m" x="741" y="411.1">P15</text><text class="m" x="741" y="417.8">P16</text><text class="m" x="741" y="424.5">P17</text><text class="m" x="741" y="431.2">P47</text><text class="m" x="741" y="437.9">P30</text><text class="m" x="741" y="444.6">P43</text><text class="m" x="741" y="451.3">P31</text><text class="m" x="741" y="458">P32</text><text class="m" x="741" y="464.7">P33</text><text class="m" x="741" y="471.4">P34</text><text class="m" x="741" y="478.1">P35</text><text class="m" x="741" y="484.8">P36</text><text class="m" x="744" y="491.5">P37</text>
<text class="m" x="788" y="357.5">P42</text><text class="m" x="788" y="364.2">P10</text><text class="m" x="788" y="370.9">P11</text><text class="m" x="788" y="377.6">P12</text><text class="m" x="788" y="384.3">P13</text><text class="m" x="788" y="391">P14</text><text class="m" x="788" y="397.7">P52</text><text class="m" x="788" y="404.4">P53</text><text class="m" x="788" y="411.1">P15</text><text class="m" x="788" y="417.8">P16</text><text class="m" x="788" y="424.5">P17</text><text class="m" x="788" y="431.2">P47</text><text class="m" x="788" y="437.9">P30</text><text class="m" x="788" y="444.6">P43</text><text class="m" x="788" y="451.3">P31</text><text class="m" x="788" y="458">P32</text><text class="m" x="788" y="464.7">P33</text><text class="m" x="788" y="471.4">P34</text><text class="m" x="788" y="478.1">P35</text><text class="m" x="788" y="484.8">P36</text><text class="m" x="788" y="491.5">P37</text>
<path class="w" d="M776.8 358.5H800M776.8 365.2H800M776.8 371.9H800M776.8 378.6H800M776.8 385.3H800M776.8 392H800M776.8 398.7H800M776.8 405.4H800M776.8 412.1H800M776.8 418.8H800M776.8 425.5H800M776.8 432.2H800M776.8 438.9H800M776.8 445.6H800M776.8 452.3H800M776.8 459H800M776.8 465.7H800M776.8 472.4H800M776.8 479.1H800M776.8 485.8H800M776.8 492.5H800M776.8 499.2H803.8M776.8 505.9H803.8M776.8 512.6H803.8V518"/>
<use href="#gnd" x="803.8" y="518"/><text x="799" y="533">GND</text>
<text x="796" y="351">VCC+3.3V</text><path class="c" d="M806.3 355.4h8M810.3 355.4V365.2"/>
<path class="w" d="M810.3 365.2V438.9H843.8"/><use href="#dot" x="810.3" y="365.2"/>
<rect class="c" x="843.8" y="355.4" width="13.3" height="166"/>
<text x="843" y="353">CN3</text><text x="843" y="529.5">2.54-24*2</text>
<text x="856" y="350.5">VCC+3.3V</text><path class="c" d="M865.9 355.4h8M869.9 355.4V358.5H857.1"/>
<text class="p s e" x="842.3" y="357.5">1</text><text class="p s e" x="842.3" y="364.2">3</text><text class="p s e" x="842.3" y="370.9">5</text><text class="p s e" x="842.3" y="377.6">7</text><text class="p s e" x="842.3" y="384.3">9</text><text class="p s e" x="842.3" y="391">11</text><text class="p s e" x="842.3" y="397.7">13</text><text class="p s e" x="842.3" y="404.4">15</text><text class="p s e" x="842.3" y="411.1">17</text><text class="p s e" x="842.3" y="417.8">19</text><text class="p s e" x="842.3" y="424.5">21</text><text class="p s e" x="842.3" y="431.2">23</text><text class="p s e" x="842.3" y="437.9">25</text><text class="p s e" x="842.3" y="444.6">27</text><text class="p s e" x="842.3" y="451.3">29</text><text class="p s e" x="842.3" y="458">31</text><text class="p s e" x="842.3" y="464.7">33</text><text class="p s e" x="842.3" y="471.4">35</text><text class="p s e" x="842.3" y="478.1">37</text><text class="p s e" x="842.3" y="484.8">39</text><text class="p s e" x="842.3" y="491.5">41</text><text class="p s e" x="842.3" y="498.2">43</text><text class="p s e" x="842.3" y="504.9">45</text><text class="p s e" x="842.3" y="511.6">47</text>
<text class="p s" x="859" y="357.5">2</text><text class="p s" x="859" y="364.2">4</text><text class="p s" x="859" y="370.9">6</text><text class="p s" x="859" y="377.6">8</text><text class="p s" x="859" y="384.3">10</text><text class="p s" x="859" y="391">12</text><text class="p s" x="859" y="397.7">14</text><text class="p s" x="859" y="404.4">16</text><text class="p s" x="859" y="411.1">18</text><text class="p s" x="859" y="417.8">20</text><text class="p s" x="859" y="424.5">22</text><text class="p s" x="859" y="431.2">24</text><text class="p s" x="859" y="437.9">26</text><text class="p s" x="859" y="444.6">28</text><text class="p s" x="859" y="451.3">30</text><text class="p s" x="859" y="458">32</text><text class="p s" x="859" y="464.7">34</text><text class="p s" x="859" y="471.4">36</text><text class="p s" x="859" y="478.1">38</text><text class="p s" x="859" y="484.8">40</text><text class="p s" x="859" y="491.5">42</text><text class="p s" x="859" y="498.2">44</text><text class="p s" x="859" y="504.9">46</text><text class="p s" x="859" y="511.6">48</text>
<text class="m" x="817" y="364.2">P00</text><text class="m" x="817" y="370.9">P01</text><text class="m" x="817" y="377.6">P02</text><text class="m" x="817" y="384.3">P03</text><text class="m" x="817" y="391">P04</text><text class="m" x="817" y="397.7">P05</text><text class="m" x="817" y="404.4">P06</text><text class="m" x="817" y="411.1">P07</text><text class="m" x="817" y="417.8">P46</text><text class="m" x="817" y="424.5">P41</text><text class="m" x="817" y="431.2">P45</text><text class="m" x="817" y="444.6">P27</text><text class="m" x="817" y="451.3">P26</text><text class="m" x="817" y="458">P25</text><text class="m" x="817" y="464.7">P51</text><text class="m" x="817" y="471.4">P50</text><text class="m" x="817" y="478.1">P24</text><text class="m" x="817" y="484.8">P23</text><text class="m" x="817" y="491.5">P22</text><text class="m" x="817" y="498.2">P21</text><text class="m" x="817" y="504.9">P20</text><text class="m" x="817" y="511.6">P40</text>
<text class="m" x="868" y="364.2">P00</text><text class="m" x="868" y="370.9">P01</text><text class="m" x="868" y="377.6">P02</text><text class="m" x="868" y="384.3">P03</text><text class="m" x="868" y="391">P04</text><text class="m" x="868" y="397.7">P05</text><text class="m" x="868" y="404.4">P06</text><text class="m" x="868" y="411.1">P07</text><text class="m" x="868" y="417.8">P46</text><text class="m" x="868" y="424.5">P41</text><text class="m" x="868" y="431.2">P45</text><text class="m" x="868" y="444.6">P27</text><text class="m" x="868" y="451.3">P26</text><text class="m" x="868" y="458">P25</text><text class="m" x="868" y="464.7">P51</text><text class="m" x="868" y="471.4">P50</text><text class="m" x="868" y="478.1">P24</text><text class="m" x="868" y="484.8">P23</text><text class="m" x="868" y="491.5">P22</text><text class="m" x="868" y="498.2">P21</text><text class="m" x="868" y="504.9">P20</text><text class="m" x="868" y="511.6">P40</text>
<path class="w" d="M830 365.2H843.8M830 371.9H843.8M830 378.6H843.8M830 385.3H843.8M830 392H843.8M830 398.7H843.8M830 405.4H843.8M830 412.1H843.8M830 418.8H843.8M830 425.5H843.8M830 432.2H843.8M830 445.6H843.8M830 452.3H843.8M830 459H843.8M830 465.7H843.8M830 472.4H843.8M830 479.1H843.8M830 485.8H843.8M830 492.5H843.8M830 499.2H843.8M830 505.9H843.8M830 512.6H843.8"/>
<path class="c" d="M857.1 438.9H890.6M890.6 434.9v8"/><text x="891.6" y="441.5">VCC+3.3V</text>
<path class="w" d="M865 365.2H884V248.1H947M865 371.9H889.3V268.1H947M865 378.6H894.6V288.2H947M865 385.3H899.9V308.2H947M865 392H905.2V328.2H947M865 398.7H910.5V348.3H947M865 405.4H915.8V368.3H947M865 412.1H921.1V388.3H947M865 418.8H926.4V408.3H947M865 425.5H931.7V428.4H947M865 432.2H937V448.4H947M865 445.6H931.7V468.4H947M865 452.3H926.4V488.5H947M865 459H921.1V508.5H947M865 465.7H915.8V528.5H947M865 472.4H910.5V548.6H947M865 479.1H905.2V568.6H947M865 485.8H899.9V588.6H947M865 492.5H894.6V608.6H947M865 499.2H889.3V628.7H947M865 505.9H884V648.7H947"/>
<text x="987" y="237.5">VCC+3.3V</text>
<path class="c" d="M999.8 240h8M1003.8 240V248.1"/>
<path class="w" d="M1003.8 248.1V648.7"/>
<g transform="translate(0,248.1)"><path class="w" d="M947 0H950M990 0H1003.8"/><use href="#rh" x="950" y="0"/><path class="c" d="M960 0H984"/><use href="#ledl" x="984" y="0"/><use href="#dot" x="1003.8" y="0"/><text class="big" x="949" y="-3.5">R1</text><text class="big" x="949" y="7.5">4.7K</text><text class="big" x="963" y="-2">LED1</text></g>
<g transform="translate(0,268.1)"><path class="w" d="M947 0H950M990 0H1003.8"/><use href="#rh" x="950" y="0"/><path class="c" d="M960 0H984"/><use href="#ledl" x="984" y="0"/><use href="#dot" x="1003.8" y="0"/><text class="big" x="949" y="-3.5">R4</text><text class="big" x="949" y="7.5">4.7K</text><text class="big" x="963" y="-2">LED2</text></g>
<g transform="translate(0,288.2)"><path class="w" d="M947 0H950M990 0H1003.8"/><use href="#rh" x="950" y="0"/><path class="c" d="M960 0H984"/><use href="#ledl" x="984" y="0"/><use href="#dot" x="1003.8" y="0"/><text class="big" x="949" y="-3.5">R9</text><text class="big" x="949" y="7.5">4.7K</text><text class="big" x="963" y="-2">LED4</text></g>
<g transform="translate(0,308.2)"><path class="w" d="M947 0H950M990 0H1003.8"/><use href="#rh" x="950" y="0"/><path class="c" d="M960 0H984"/><use href="#ledl" x="984" y="0"/><use href="#dot" x="1003.8" y="0"/><text class="big" x="949" y="-3.5">R14</text><text class="big" x="949" y="7.5">4.7K</text><text class="big" x="963" y="-2">LED8</text></g>
<g transform="translate(0,328.2)"><path class="w" d="M947 0H950M990 0H1003.8"/><use href="#rh" x="950" y="0"/><path class="c" d="M960 0H984"/><use href="#ledl" x="984" y="0"/><use href="#dot" x="1003.8" y="0"/><text class="big" x="949" y="-3.5">R16</text><text class="big" x="949" y="7.5">4.7K</text><text class="big" x="963" y="-2">LED10</text></g>
<g transform="translate(0,348.3)"><path class="w" d="M947 0H950M990 0H1003.8"/><use href="#rh" x="950" y="0"/><path class="c" d="M960 0H984"/><use href="#ledl" x="984" y="0"/><use href="#dot" x="1003.8" y="0"/><text class="big" x="949" y="-3.5">R18</text><text class="big" x="949" y="7.5">4.7K</text><text class="big" x="963" y="-2">LED12</text></g>
<g transform="translate(0,368.3)"><path class="w" d="M947 0H950M990 0H1003.8"/><use href="#rh" x="950" y="0"/><path class="c" d="M960 0H984"/><use href="#ledl" x="984" y="0"/><use href="#dot" x="1003.8" y="0"/><text class="big" x="949" y="-3.5">R20</text><text class="big" x="949" y="7.5">4.7K</text><text class="big" x="963" y="-2">LED14</text></g>
<g transform="translate(0,388.3)"><path class="w" d="M947 0H950M990 0H1003.8"/><use href="#rh" x="950" y="0"/><path class="c" d="M960 0H984"/><use href="#ledl" x="984" y="0"/><use href="#dot" x="1003.8" y="0"/><text class="big" x="949" y="-3.5">R22</text><text class="big" x="949" y="7.5">4.7K</text><text class="big" x="963" y="-2">LED16</text></g>
<g transform="translate(0,408.3)"><path class="w" d="M947 0H950M990 0H1003.8"/><use href="#rh" x="950" y="0"/><path class="c" d="M960 0H984"/><use href="#ledl" x="984" y="0"/><use href="#dot" x="1003.8" y="0"/><text class="big" x="949" y="-3.5">R27</text><text class="big" x="949" y="7.5">4.7K</text><text class="big" x="963" y="-2">LED18</text></g>
<g transform="translate(0,428.4)"><path class="w" d="M947 0H950M990 0H1003.8"/><use href="#rh" x="950" y="0"/><path class="c" d="M960 0H984"/><use href="#ledl" x="984" y="0"/><use href="#dot" x="1003.8" y="0"/><text class="big" x="949" y="-3.5">R32</text><text class="big" x="949" y="7.5">4.7K</text><text class="big" x="963" y="-2">LED20</text></g>
<g transform="translate(0,448.4)"><path class="w" d="M947 0H950M990 0H1003.8"/><use href="#rh" x="950" y="0"/><path class="c" d="M960 0H984"/><use href="#ledl" x="984" y="0"/><use href="#dot" x="1003.8" y="0"/><text class="big" x="949" y="-3.5">R34</text><text class="big" x="949" y="7.5">4.7K</text><text class="big" x="963" y="-2">LED22</text></g>
<g transform="translate(0,468.4)"><path class="w" d="M947 0H950M990 0H1003.8"/><use href="#rh" x="950" y="0"/><path class="c" d="M960 0H984"/><use href="#ledl" x="984" y="0"/><use href="#dot" x="1003.8" y="0"/><text class="big" x="949" y="-3.5">R36</text><text class="big" x="949" y="7.5">4.7K</text><text class="big" x="963" y="-2">LED24</text></g>
<g transform="translate(0,488.5)"><path class="w" d="M947 0H950M990 0H1003.8"/><use href="#rh" x="950" y="0"/><path class="c" d="M960 0H984"/><use href="#ledl" x="984" y="0"/><use href="#dot" x="1003.8" y="0"/><text class="big" x="949" y="-3.5">R38</text><text class="big" x="949" y="7.5">4.7K</text><text class="big" x="963" y="-2">LED26</text></g>
<g transform="translate(0,508.5)"><path class="w" d="M947 0H950M990 0H1003.8"/><use href="#rh" x="950" y="0"/><path class="c" d="M960 0H984"/><use href="#ledl" x="984" y="0"/><use href="#dot" x="1003.8" y="0"/><text class="big" x="949" y="-3.5">R40</text><text class="big" x="949" y="7.5">4.7K</text><text class="big" x="963" y="-2">LED28</text></g>
<g transform="translate(0,528.5)"><path class="w" d="M947 0H950M990 0H1003.8"/><use href="#rh" x="950" y="0"/><path class="c" d="M960 0H984"/><use href="#ledl" x="984" y="0"/><use href="#dot" x="1003.8" y="0"/><text class="big" x="949" y="-3.5">R42</text><text class="big" x="949" y="7.5">4.7K</text><text class="big" x="963" y="-2">LED30</text></g>
<g transform="translate(0,548.6)"><path class="w" d="M947 0H950M990 0H1003.8"/><use href="#rh" x="950" y="0"/><path class="c" d="M960 0H984"/><use href="#ledl" x="984" y="0"/><use href="#dot" x="1003.8" y="0"/><text class="big" x="949" y="-3.5">R44</text><text class="big" x="949" y="7.5">4.7K</text><text class="big" x="963" y="-2">LED32</text></g>
<g transform="translate(0,568.6)"><path class="w" d="M947 0H950M990 0H1003.8"/><use href="#rh" x="950" y="0"/><path class="c" d="M960 0H984"/><use href="#ledl" x="984" y="0"/><use href="#dot" x="1003.8" y="0"/><text class="big" x="949" y="-3.5">R46</text><text class="big" x="949" y="7.5">4.7K</text><text class="big" x="963" y="-2">LED34</text></g>
<g transform="translate(0,588.6)"><path class="w" d="M947 0H950M990 0H1003.8"/><use href="#rh" x="950" y="0"/><path class="c" d="M960 0H984"/><use href="#ledl" x="984" y="0"/><use href="#dot" x="1003.8" y="0"/><text class="big" x="949" y="-3.5">R47</text><text class="big" x="949" y="7.5">4.7K</text><text class="big" x="963" y="-2">LED35</text></g>
<g transform="translate(0,608.6)"><path class="w" d="M947 0H950M990 0H1003.8"/><use href="#rh" x="950" y="0"/><path class="c" d="M960 0H984"/><use href="#ledl" x="984" y="0"/><use href="#dot" x="1003.8" y="0"/><text class="big" x="949" y="-3.5">R48</text><text class="big" x="949" y="7.5">4.7K</text><text class="big" x="963" y="-2">LED36</text></g>
<g transform="translate(0,628.7)"><path class="w" d="M947 0H950M990 0H1003.8"/><use href="#rh" x="950" y="0"/><path class="c" d="M960 0H984"/><use href="#ledl" x="984" y="0"/><use href="#dot" x="1003.8" y="0"/><text class="big" x="949" y="-3.5">R49</text><text class="big" x="949" y="7.5">4.7K</text><text class="big" x="963" y="-2">LED37</text></g>
<g transform="translate(0,648.7)"><path class="w" d="M947 0H950M990 0H1003.8"/><use href="#rh" x="950" y="0"/><path class="c" d="M960 0H984"/><use href="#ledl" x="984" y="0"/><text class="big" x="949" y="-3.5">R50</text><text class="big" x="949" y="7.5">4.7K</text><text class="big" x="963" y="-2">LED38</text></g>
<text x="750.4" y="547">同一IO口两根排针</text>
<text x="750.4" y="560">方便杜邦线同时外接其他模块和逻辑分析仪</text>
<text x="616.4" y="660">LED只焊P2（LED37、LED36、LED35、LED34、LED32、LED26、LED24、LED22），其余可不焊</text>

<!-- BLOCK 5 -->
<rect class="k" x="29.7" y="763" width="272.8" height="186.7"/>
<text x="35" y="772">VCC+3.3V</text>
<path class="c" d="M45.5 776h8M49.5 776V782.7"/>
<path class="w" d="M49.5 782.7H289V829.6H49.5V842.5H289M49.5 815.9H263.5M49.5 876H284.1M229.8 815.9V923.3M156.5 923.3H289M289 842.5V930M256.5 876V893M256.5 903V923.3M229.8 896V908"/>
<use href="#rh" x="56.9" y="782.7"/><use href="#rh" x="83.6" y="782.7"/><use href="#rh" x="110.4" y="782.7"/><use href="#rh" x="137.1" y="782.7"/><use href="#rh" x="163.9" y="782.7"/><use href="#rh" x="190.6" y="782.7"/><use href="#rh" x="217.4" y="782.7"/><use href="#rh" x="244.1" y="782.7"/><use href="#rh" x="270.9" y="782.7"/>
<use href="#sw" x="49.5" y="796"/><use href="#sw" x="76.3" y="796"/><use href="#sw" x="103" y="796"/><use href="#sw" x="129.8" y="796"/><use href="#sw" x="156.5" y="796"/><use href="#sw" x="183.3" y="796"/><use href="#sw" x="210" y="796"/><use href="#sw" x="236.8" y="796"/><use href="#sw" x="263.5" y="796"/>
<path class="w" d="M49.5 782.7V796M76.3 782.7V796M103 782.7V796M129.8 782.7V796M156.5 782.7V796M183.3 782.7V796M210 782.7V796M236.8 782.7V796M263.5 782.7V796M49.5 810V815.9M76.3 810V815.9M103 810V815.9M129.8 810V815.9M156.5 810V815.9M183.3 810V815.9M210 810V815.9M236.8 810V815.9M263.5 810V815.9"/>
<use href="#dot" x="49.5" y="782.7"/><use href="#dot" x="76.3" y="782.7"/><use href="#dot" x="103" y="782.7"/><use href="#dot" x="129.8" y="782.7"/><use href="#dot" x="156.5" y="782.7"/><use href="#dot" x="183.3" y="782.7"/><use href="#dot" x="210" y="782.7"/><use href="#dot" x="236.8" y="782.7"/><use href="#dot" x="263.5" y="782.7"/>
<text class="m" x="57" y="779">R59</text><text class="m" x="83.6" y="779">R60</text><text class="m" x="110.4" y="779">R61</text><text class="m" x="137.1" y="779">R62</text><text class="m" x="163.9" y="779">R63</text><text class="m" x="190.6" y="779">R64</text><text class="m" x="217.4" y="779">R65</text><text class="m" x="244.1" y="779">R66</text><text class="m" x="270.9" y="779">R67</text>
<text class="m" x="55" y="790">220R</text><text class="m" x="81.8" y="790">220R</text><text class="m" x="108.5" y="790">220R</text><text class="m" x="135.3" y="790">220R</text><text class="m" x="162" y="790">220R</text><text class="m" x="188.8" y="790">220R</text><text class="m" x="215.5" y="790">220R</text><text class="m" x="242.3" y="790">220R</text><text class="m" x="269" y="790">220R</text>
<text class="m" x="51.6" y="801">K9</text><text class="m" x="78.4" y="801">K10</text><text class="m" x="105.1" y="801">K11</text><text class="m" x="131.9" y="801">K12</text><text class="m" x="158.6" y="801">K13</text><text class="m" x="185.4" y="801">K14</text><text class="m" x="212.1" y="801">K15</text><text class="m" x="238.9" y="801">K16</text><text class="m" x="265.6" y="801">K17</text>
<text class="s" x="49" y="822.5">0x0FFF</text><text class="s" x="75.8" y="822.5">0x0F00</text><text class="s" x="102.5" y="822.5">0x0E00</text><text class="s" x="129.3" y="822.5">0x0D00</text><text class="s" x="156" y="822.5">0x0C00</text><text class="s" x="182.8" y="822.5">0x0B00</text><text class="s" x="209.5" y="822.5">0x0A00</text><text class="s" x="236.3" y="822.5">0x0900</text><text class="s" x="263" y="822.5">0x0800</text>
<use href="#rh" x="56.9" y="842.5"/><use href="#rh" x="83.6" y="842.5"/><use href="#rh" x="110.4" y="842.5"/><use href="#rh" x="137.1" y="842.5"/><use href="#rh" x="163.9" y="842.5"/><use href="#rh" x="190.6" y="842.5"/><use href="#rh" x="217.4" y="842.5"/>
<use href="#sw" x="49.5" y="856"/><use href="#sw" x="76.3" y="856"/><use href="#sw" x="103" y="856"/><use href="#sw" x="129.8" y="856"/><use href="#sw" x="156.5" y="856"/><use href="#sw" x="183.3" y="856"/><use href="#sw" x="210" y="856"/>
<path class="w" d="M49.5 842.5V856M76.3 842.5V856M103 842.5V856M129.8 842.5V856M156.5 842.5V856M183.3 842.5V856M210 842.5V856M49.5 870V876M76.3 870V876M103 870V876M129.8 870V876M156.5 870V876M183.3 870V876M210 870V876"/>
<use href="#dot" x="49.5" y="842.5"/><use href="#dot" x="76.3" y="842.5"/><use href="#dot" x="103" y="842.5"/><use href="#dot" x="129.8" y="842.5"/><use href="#dot" x="156.5" y="842.5"/><use href="#dot" x="183.3" y="842.5"/><use href="#dot" x="210" y="842.5"/>
<text class="m" x="57" y="839">R72</text><text class="m" x="83.6" y="839">R73</text><text class="m" x="110.4" y="839">R74</text><text class="m" x="137.1" y="839">R75</text><text class="m" x="163.9" y="839">R76</text><text class="m" x="190.6" y="839">R77</text><text class="m" x="217.4" y="839">R78</text>
<text class="m" x="55" y="850">220R</text><text class="m" x="81.8" y="850">220R</text><text class="m" x="108.5" y="850">220R</text><text class="m" x="135.3" y="850">220R</text><text class="m" x="162" y="850">220R</text><text class="m" x="188.8" y="850">220R</text><text class="m" x="215.5" y="850">220R</text>
<text class="m" x="51.6" y="861">K18</text><text class="m" x="78.4" y="861">K19</text><text class="m" x="105.1" y="861">K20</text><text class="m" x="131.9" y="861">K21</text><text class="m" x="158.6" y="861">K22</text><text class="m" x="185.4" y="861">K23</text><text class="m" x="212.1" y="861">K24</text>
<text class="s" x="49" y="882.5">0x0700</text><text class="s" x="75.8" y="882.5">0x0600</text><text class="s" x="102.5" y="882.5">0x0500</text><text class="s" x="129.3" y="882.5">0x0400</text><text class="s" x="156" y="882.5">0x0300</text><text class="s" x="182.8" y="882.5">0x0200</text><text class="s" x="209.5" y="882.5">0x0100</text>
<text x="243" y="854">16个ADC按键</text><text x="243" y="861">IO高阻输入</text>
<use href="#rh" x="238" y="876"/><text class="m" x="237.5" y="872">R81</text><text class="m" x="238.5" y="884">1K</text><text class="m" x="256.5" y="873">P10 ADC0</text>
<use href="#dot" x="229.8" y="876"/><use href="#dot" x="256.5" y="876"/><use href="#dot" x="229.8" y="923.3"/><use href="#dot" x="256.5" y="923.3"/><use href="#dot" x="289" y="923.3"/>
<use href="#rv" x="229.8" y="896"/><text class="m" x="231.5" y="901">R84</text><text class="m" x="231.5" y="908">100K</text>
<use href="#capv" x="256.5" y="898"/><text class="m" x="259" y="898">C18</text><text class="m" x="259" y="905">0.1u</text>
<use href="#gnd" x="289" y="930"/>
<path class="w" d="M76.3 896.2H97M107 896.2H127M76.3 909.7H97M107 909.7H127M76.3 923.1H97M107 923.1H127M154.5 896.2H176M186 896.2H210M154.5 909.7H176M186 909.7H210M143 923.1H156.5"/>
<use href="#rh" x="97" y="896.2"/><use href="#rh" x="97" y="909.7"/><use href="#rh" x="97" y="923.1"/><use href="#rh" x="176" y="896.2"/><use href="#rh" x="176" y="909.7"/>
<circle class="c" cx="131" cy="896.2" r="1"/><circle class="c" cx="131" cy="909.7" r="1"/><circle class="c" cx="151" cy="896.2" r="1"/><circle class="c" cx="151" cy="909.7" r="1"/><circle class="c" cx="141" cy="896.2" r="2"/><path class="c" d="M141 909.7L147 923.1"/>
<text class="m" x="76.3" y="893">P00</text><text class="m" x="76.3" y="906.5">P02</text><text class="m" x="76.3" y="920">P01</text>
<text class="m" x="98" y="891.5">R82</text><text class="m" x="98" y="904">220R</text><text class="m" x="98" y="905">R85</text><text class="m" x="98" y="917.5">220R</text><text class="m" x="98" y="919">R87</text><text class="m" x="98" y="931">220R</text>
<text class="m" x="126" y="893">1</text><text class="m" x="126" y="906.5">2</text><text class="m" x="126" y="920">3</text><text class="m" x="131" y="891">K25</text><text class="m" x="155" y="893">6</text><text class="m" x="155" y="906.5">5</text><text class="m" x="146" y="920">4</text>
<text class="m" x="177" y="891.5">R83</text><text class="m" x="177" y="904">220R</text><text class="m" x="177" y="905">R86</text><text class="m" x="177" y="917.5">220R</text>
<text class="m" x="195.6" y="893">P04</text><text class="m" x="195.6" y="906.5">P03</text>
<text class="m" x="131" y="925">-COM</text><text class="m" x="129.8" y="931">五向开关</text>
<text x="70" y="942">五向开关（打开内部4K上拉，P00=上，P01=下，P02=左，P03=右，P04=按下）GND</text>

<!-- BLOCK 6 -->
<rect class="k" x="315.8" y="762.5" width="354" height="133.7"/>
<text x="323.2" y="775">最高输入电压±1.8V</text>
<text x="436.4" y="775">使用简易示波器和NTC测温时CN7不要使用UART2</text>
<text x="610.1" y="775">比较器掉电检测</text>
<text x="323.2" y="788">直流耦合短接J1</text>
<text x="371" y="787">VCC+3.3V</text><text x="558" y="787">VCC+3.3V</text><text x="609" y="787">+5V</text>
<text x="436.4" y="795">使用PWM控制背光时CN10不要使用AOUT</text>
<text x="436.4" y="808.5">fo=0.37/2*pi*R*C1</text>
<text x="436.4" y="822">IO推挽输出</text>
<path class="c" d="M386.3 789.4h8M572.3 789.4h8M612.7 789.4h8"/>
<text class="m" x="335" y="797">J1</text><use href="#jmp" x="343" y="802.7"/>
<path class="c" d="M323.2 802.7H340M346 802.7H362.3"/>
<path class="w" d="M323.2 802.7V842.8H340V862.3M362.3 802.7V822.6M323.2 822.6H335.7M343.7 822.6H370M380 822.6H390.3M390.3 789.4V802.5M390.3 812.5V852M390.3 860V869.6M369.7 836.4H409.6V856M369.7 836.4V848M369.7 856V869.6M336.4 869.6H390.3M336.4 862.3H343"/>
<use href="#caph" x="339.7" y="822.6"/><text class="m" x="335" y="817">C12</text><text class="m" x="335" y="835">10u</text>
<use href="#rh" x="370" y="822.6"/><text class="m" x="371" y="818.5">R71</text><text class="m" x="371" y="831">18K</text>
<use href="#rv" x="390.3" y="802.5"/><text class="m" x="392" y="807">R68</text><text class="m" x="392" y="814">3.9K</text>
<text class="m" x="397" y="828">IO高阻输入</text>
<use href="#capv" x="369.7" y="852"/><text class="m" x="372" y="852">C13</text><text class="m" x="372" y="859">1n</text>
<use href="#rv" x="390.3" y="852"/><text class="m" x="392" y="852">R80</text><text class="m" x="392" y="859">3.9K</text>
<path class="c" d="M409.6 850a3 6 0 0 1 0 12"/><text class="m" x="411" y="858">J2</text>
<use href="#dot" x="390.3" y="822.6"/><use href="#dot" x="390.3" y="836.4"/><use href="#dot" x="323.2" y="822.6"/><use href="#dot" x="369.7" y="869.6"/><use href="#dot" x="343" y="869.6"/>
<rect class="c" x="323.2" y="856" width="13.2" height="20.3"/><text class="m" x="323.2" y="853.5">CN11</text>
<text class="s" x="338" y="861">1</text><text class="s" x="338" y="868">2</text><text class="m" x="345" y="859">AIN</text>
<text class="m" x="319" y="882">2.54-2</text><text class="m" x="353" y="882">简易示波器</text>
<use href="#gnd" x="343" y="872"/><text class="m" x="338" y="890">GND</text>
<text class="m" x="407" y="874">P12</text><text class="m" x="405" y="882">ADC2</text>
<text class="m" x="430.2" y="834.5">PWM8/PWM4N_2</text><text class="m" x="430.2" y="841">P07</text>
<path class="w" d="M430 842.8H452M462 842.8H503M442.6 842.8V855M442.6 863V869.4M470.2 842.8V855M470.2 863V869.4H495V849.3H503M442.6 869.4H470.2"/>
<use href="#rh" x="452" y="842.8"/><text class="m" x="451" y="838.5">R79</text><text class="m" x="451" y="851">10K</text><text class="m" x="467" y="839.5">AOUT</text>
<use href="#capv" x="442.6" y="859"/><use href="#capv" x="470.2" y="859"/><text class="m" x="445" y="858">C15</text><text class="m" x="445" y="866">1n</text><text class="m" x="473" y="858">C16</text><text class="m" x="473" y="866">1n</text>
<use href="#dot" x="442.6" y="842.8"/><use href="#dot" x="470.2" y="842.8"/><use href="#dot" x="442.6" y="869.4"/>
<rect class="c" x="503" y="836" width="13.7" height="20.2"/><text class="m" x="503" y="833.5">CN10</text><text class="m" x="503" y="863">2.54-2</text>
<use href="#gnd" x="442.6" y="872"/><text class="m" x="438" y="890">GND</text><text class="m" x="456" y="882">简易PWM DAC</text>
<path class="w" d="M576.3 789.4V802.5M576.3 812.5V873M530.2 836.4H576.3M530.2 836.4V852M530.2 860V872M556.6 836.4V848M556.6 856V869.4H530.2"/>
<use href="#rv" x="576.3" y="802.5"/><text class="m" x="578" y="807">R69</text><text class="m" x="578" y="814">10K</text>
<text class="m" x="537" y="828">IO高阻输入</text>
<use href="#rv" x="530.2" y="852"/><text class="m" x="532" y="852">NTC1</text><text class="m" x="532" y="859">10K 1%</text>
<use href="#capv" x="556.6" y="852"/><text class="m" x="559" y="852">C14</text><text class="m" x="559" y="859">0.1u</text>
<path class="c" d="M576.3 852a3 6 0 0 1 0 12"/><text class="m" x="578" y="860">J3</text>
<use href="#dot" x="556.6" y="836.4"/><use href="#dot" x="576.3" y="836.4"/><use href="#dot" x="530.2" y="869.4"/>
<use href="#gnd" x="530.2" y="872"/><text class="m" x="525.5" y="890">GND</text><text class="m" x="544" y="882">NTC测温</text>
<text class="m" x="576" y="874">P13</text><text class="m" x="574" y="882">ADC3</text>
<path class="w" d="M616.7 789.4V802.5M616.7 812.5V843M616.7 854V872M630.7 836.4H649.6V872M630.7 836.4V855M630.7 863V869.4H616.7M630.7 848.9H620"/>
<use href="#rv" x="616.7" y="802.5"/><text class="m" x="618.5" y="807">R70</text><text class="m" x="618.5" y="814">100K</text>
<text class="m" x="630.7" y="828">IO高阻输入</text>
<rect class="c" x="615" y="843" width="3.4" height="11"/><path class="c" d="M620 848.9l2 -1.5v3z"/>
<text class="m" x="598" y="848">RP1</text><text class="m" x="598" y="855">100K</text>
<use href="#capv" x="630.7" y="859"/><text class="m" x="633" y="858">C17</text><text class="m" x="633" y="866">10n</text>
<path class="c" d="M649.6 852a3 6 0 0 1 0 12"/><text class="m" x="652" y="860">J4</text>
<use href="#dot" x="616.7" y="869.4"/>
<use href="#gnd" x="616.7" y="872"/><text class="m" x="612" y="890">GND</text>
<text class="m" x="645" y="874">P46</text><text class="m" x="643" y="882">CMP+</text>

<!-- BLOCK 7 -->
<rect class="k" x="683.7" y="682" width="233.7" height="160.7"/>
<text class="p" x="690.5" y="693">CN9</text><text x="707" y="693">TF CARD  TF卡（小SD卡）</text>
<rect class="c" x="690.5" y="695.7" width="66.8" height="80.3"/>
<text class="r m" x="691.5" y="704.5">SPI MODE</text><text class="r m" x="717" y="704.5">SD MODE</text>
<text class="r m e" x="718.5" y="711">RSV</text><text class="r m e" x="718.5" y="717.7">CS</text><text class="r m e" x="718.5" y="724.5">DI</text><text class="r m e" x="718.5" y="731">VCC</text><text class="r m e" x="718.5" y="737.7">SCLK</text><text class="r m e" x="718.5" y="744.4">GND</text><text class="r m e" x="718.5" y="751.1">DO</text><text class="r m e" x="718.5" y="757.9">RSV</text>
<text class="p m e" x="755.5" y="711">DATA2</text><text class="p m e" x="755.5" y="717.7">DATA3/CD</text><text class="p m e" x="755.5" y="724.5">CMD</text><text class="p m e" x="755.5" y="731">VCC</text><text class="p m e" x="755.5" y="737.7">CLK</text><text class="p m e" x="755.5" y="744.4">GND</text><text class="p m e" x="755.5" y="751.1">DATA0</text><text class="p m e" x="755.5" y="757.9">DATA1</text><text class="p m e" x="755.5" y="764.7">CD</text><text class="p m e" x="755.5" y="771.3">GND</text>
<path class="c" d="M757.3 709h13M757.3 715.7h13M757.3 722.5h13M757.3 729h13M757.3 735.7h13M757.3 742.4h13M757.3 749.1h13M757.3 755.9h13M757.3 762.7h13M757.3 769.3h13M804.5 729H810.5M810.5 725v8M804.5 742.4H810.5M804.5 769.3H810.5"/>
<path class="w" d="M770.3 715.7H804.5M770.3 722.5H804.5M770.3 729H804.5M770.3 735.7H804.5M770.3 742.4H804.5M770.3 749.1H804.5M770.3 769.3H804.5"/>
<use href="#gbar" x="810.5" y="742.4"/><use href="#gbar" x="810.5" y="769.3"/>
<use href="#xx" x="770.5" y="709"/><use href="#xx" x="770.5" y="755.9"/><use href="#xx" x="770.5" y="762.7"/>
<text class="p s" x="760.5" y="707.5">1</text><text class="p s" x="760.5" y="714.2">2</text><text class="p s" x="760.5" y="721">3</text><text class="p s" x="760.5" y="727.5">4</text><text class="p s" x="760.5" y="734.2">5</text><text class="p s" x="760.5" y="740.9">6</text><text class="p s" x="760.5" y="747.6">7</text><text class="p s" x="760.5" y="754.4">8</text><text class="p s" x="760.5" y="761.2">9</text><text class="p s" x="760.5" y="767.8">0</text>
<text class="m" x="770.6" y="714.3">P24 TF_CS</text><text class="m" x="770.6" y="721">P25 MOSI</text><text class="m" x="783" y="727.7">VCC</text><text class="m" x="770.6" y="734.3">P27 SCLK</text><text class="m" x="783" y="741">GND</text><text class="m" x="770.6" y="747.8">P26 MISO</text>
<text x="811.7" y="731">VCC+3.3V</text><text x="818.5" y="744.4">GND</text><text x="818.5" y="771.3">GND</text>
<text x="750.4" y="787">IC4_W25Qxx_QSPI/SPI-Flash</text>
<rect class="c" x="750.4" y="789.3" width="66.8" height="33.6"/>
<path class="c" d="M737 796H750.4M737 802.8H750.4M737 809.3H750.4M737 816H750.4M817.2 796H830M817.2 802.8H830M817.2 809.3H830M817.2 816H830"/>
<path class="w" d="M690.5 796H737M690.5 802.8H737M690.5 809.3H737M737 816V822.9M830 796H890.8V802M890.8 810V822.9M830 802.8H860M830 809.3H860M830 816H860"/>
<text class="m" x="690.5" y="794.5">QSPINCS_2P40</text><text class="m" x="690.5" y="801.3">QSPIIO1_2 P42</text><text class="m" x="690.5" y="807.8">QSPIIO2_2 P52</text>
<text class="p s" x="744" y="794.8">1</text><text class="p s" x="744" y="801.6">2</text><text class="p s" x="744" y="808.1">3</text><text class="p s" x="744" y="814.8">4</text><text class="p s" x="820" y="794.8">8</text><text class="p s" x="820" y="801.6">7</text><text class="p s" x="820" y="808.1">6</text><text class="p s" x="820" y="814.8">5</text>
<text class="p m" x="753" y="798">CS</text><text class="p m e" x="815" y="798">VCC</text>
<text class="p m" x="753" y="805">DO(IO1) HOLD(IO3)</text>
<text class="p m" x="753" y="811.5">WP(IO2)</text><text class="p m e" x="815" y="811.5">CLK</text>
<text class="p m" x="753" y="818.3">GND</text><text class="p m e" x="815" y="818.3">DI(IO0)</text>
<text class="m" x="830.7" y="801.3">P53 QSPIIO3_2</text><text class="m" x="830.7" y="807.8">P43 QSPICLK_2</text><text class="m" x="830.7" y="814.5">P41 QSPIIO0_2</text>
<text x="876" y="786.5">VCC+3.3V</text><path class="c" d="M886.8 789.3h8M890.8 789.3V796"/>
<use href="#dot" x="890.8" y="796"/><use href="#capv" x="890.8" y="806"/><text class="m" x="894" y="806">C11</text><text class="m" x="894" y="813">0.1u</text>
<use href="#gnd" x="890.8" y="822.9"/><text x="886" y="836">GND</text>
<use href="#gnd" x="737" y="822.9"/><text x="732.5" y="836">GND</text>

<!-- BLOCK 8 -->
<rect class="k" x="342.8" y="910" width="587.2" height="126"/>
<text class="m" x="372" y="914.5">J5</text><use href="#jmp" x="375" y="920"/>
<path class="c" d="M357 920H372M378 920H396M357 920V930M396 920V927"/>
<use href="#tri" x="357" y="930"/><use href="#gnd" x="396" y="927"/>
<text class="m" x="349" y="941">AGND1</text><text class="m" x="391" y="941">GND</text><text class="m" x="356" y="946.5">VCC+3.3V</text>
<text x="477" y="920">IC5_ES8156_I2S-DAC</text>
<rect class="c" x="477" y="923.4" width="63.6" height="72"/>
<path class="c" d="M465 929.4H477M465 936.1H477M465 942.8H477M465 949.5H477M465 956.2H477M465 962.9H477M465 969.6H477M465 976.3H477M465 983H477M465 989.7H477M540.6 929.4H553M540.6 936.1H553M540.6 942.8H553M540.6 949.5H553M540.6 956.2H553M540.6 962.9H553M540.6 969.6H553M540.6 976.3H553M540.6 983H553M540.6 989.7H553M509 995.4V1009.3"/>
<path class="w" d="M420 929.4H465M420 936.1H465M410 942.8H465M410 969.6H465M410 976.3H465M410 983H465M425 989.7H465M553 942.8H562M553 949.5H575M553 956.2H726.5M553 962.9H575M553 969.6H575M553 976.3H562M553 983H575M553 989.7H575M367.5 956.2V995M367.5 1003V1009.3M367.5 1009.3H726.5M404.2 956.2V995M404.2 1003V1009.3M367.5 956.2H465M592.2 956.2V995M621.9 956.2V995M648 956.2V995M674.9 956.2V995M698.2 956.2V995M726.5 956.2V995M592.2 1003V1009.3M621.9 1003V1009.3M648 1003V1009.3M674.9 1003V1009.3M698.2 1003V1009.3M726.5 1003V1009.3M367.5 1009.3V1016"/>
<text class="p s e" x="475" y="928.4">1</text><text class="p s e" x="475" y="935.1">2</text><text class="p s e" x="475" y="941.8">3</text><text class="p s e" x="475" y="948.5">4</text><text class="p s e" x="475" y="955.2">5</text><text class="p s e" x="475" y="961.9">6</text><text class="p s e" x="475" y="968.6">7</text><text class="p s e" x="475" y="975.3">8</text><text class="p s e" x="475" y="982">9</text><text class="p s e" x="475" y="988.7">10</text>
<text class="p s" x="543" y="928.4">20</text><text class="p s" x="543" y="935.1">19</text><text class="p s" x="543" y="941.8">18</text><text class="p s" x="543" y="948.5">17</text><text class="p s" x="543" y="955.2">16</text><text class="p s" x="543" y="961.9">15</text><text class="p s" x="543" y="968.6">14</text><text class="p s" x="543" y="975.3">13</text><text class="p s" x="543" y="982">12</text><text class="p s" x="543" y="988.7">11</text>
<text class="p m" x="480" y="931.5">CDATA</text><text class="p m" x="480" y="938.2">CCLK</text><text class="p m" x="480" y="944.9">MCLK</text><text class="p m" x="480" y="951.6">DVDD</text><text class="p m" x="480" y="958.3">PVDD</text><text class="p m" x="480" y="965">DGND</text><text class="p m" x="480" y="971.7">SCLK</text><text class="p m" x="480" y="978.4">SDIN</text><text class="p m" x="480" y="985.1">LRCK</text><text class="p m" x="480" y="991.8">HPCOM</text>
<text class="p m e" x="538" y="931.5">SDOUT</text><text class="p m e" x="538" y="938.2">CE</text><text class="p m e" x="538" y="944.9">VMID</text><text class="p m e" x="538" y="951.6">VRP</text><text class="p m e" x="538" y="958.3">AVDD</text><text class="p m e" x="538" y="965">LOUTP</text><text class="p m e" x="538" y="971.7">LOUTN</text><text class="p m e" x="538" y="978.4">AGND</text><text class="p m e" x="538" y="985.1">ROUTN</text><text class="p m e" x="538" y="991.8">ROUTP</text><text class="p s" x="511" y="993">GND</text>
<text class="m" x="420" y="928">CDATA  P50</text><text class="m" x="420" y="934.8">CCLK   P51</text><text class="m" x="410" y="941.5">I2SMCLK_2 P16</text><text class="m" x="430" y="948">AGND1</text>
<text class="m" x="410" y="968.3">I2SCLK_2  P17</text><text class="m" x="410" y="975">I2SSD_2   P15</text><text class="m" x="410" y="981.7">I2SWS_2   P14</text><text class="m" x="432" y="988.4">HPCOM</text>
<use href="#xx" x="556" y="929.4"/><use href="#xx" x="556" y="976.3"/>
<path class="c" d="M562 938v10l3.5-5z M562 972v10l3.5-5z"/><text class="m" x="567" y="945">AGND1</text><text class="m" x="567" y="979">AGND1</text>
<text class="m" x="555" y="961.5">LOUTP</text><text class="m" x="555" y="988.3">ROUTP</text>
<text x="625.4" y="957">VCC+3.3V</text>
<use href="#capv" x="367.5" y="999"/><use href="#capv" x="404.2" y="999"/><use href="#capv" x="592.2" y="999"/><use href="#capv" x="621.9" y="999"/><use href="#capv" x="648" y="999"/><use href="#capv" x="674.9" y="999"/><use href="#capv" x="698.2" y="999"/><use href="#capv" x="726.5" y="999"/>
<text class="m" x="370" y="998">C23</text><text class="m" x="370" y="1005">22u</text><text class="m" x="407" y="998">C24</text><text class="m" x="407" y="1005">0.1u</text>
<text class="m" x="595" y="998">C25</text><text class="m" x="595" y="1005">22u</text><text class="m" x="624.5" y="998">C26</text><text class="m" x="624.5" y="1005">0.1u</text>
<text class="m" x="650.5" y="998">C27</text><text class="m" x="650.5" y="1005">22u</text><text class="m" x="677.5" y="998">C28</text><text class="m" x="677.5" y="1005">0.1u</text>
<text class="m" x="700.8" y="998">C29</text><text class="m" x="700.8" y="1005">22u</text><text class="m" x="729" y="998">C30</text><text class="m" x="729" y="1005">0.1u</text>
<use href="#tri" x="367.5" y="1016"/><text class="m" x="360" y="1028">AGND1</text>
<text x="381.6" y="1022">I2S推挽输出，I2C（P50、P51软件模拟）打开内部4K上拉</text>
<text class="m" x="736.4" y="933">LOUTP</text><text class="m" x="736.4" y="966">ROUTP</text>
<path class="w" d="M736.4 935H766M775 935H790M800 935H876M736.4 968H766M775 968H790M800 968H876M819.8 968V982M839.5 968V982M819.8 990V1000H839.5V990M808 935V950M808 968V978"/>
<use href="#caph" x="770.3" y="935"/><use href="#caph" x="770.3" y="968"/><use href="#rh" x="790" y="935"/><use href="#rh" x="790" y="968"/>
<text class="m" x="766" y="928">C19 1u</text><text class="m" x="766" y="961">C20 1u</text><text class="m" x="791" y="931">R88</text><text class="m" x="791" y="942">33R</text><text class="m" x="791" y="964">R89</text><text class="m" x="791" y="975">33R</text>
<use href="#rv" x="819.8" y="982"/><use href="#rv" x="839.5" y="982"/>
<text class="m" x="812" y="985">R90</text><text class="m" x="810" y="992">100K</text><text class="m" x="831" y="985">R91</text><text class="m" x="831" y="992">100K</text>
<use href="#jmp" x="808" y="952"/><text class="m" x="803" y="951">J6</text><use href="#jmp" x="808" y="980"/><text class="m" x="803" y="979">J7</text>
<rect class="c" x="895" y="930" width="27" height="33"/><path class="c" d="M905 940l4 -4 4 4M905 955l4 -4 4 4"/>
<text class="m" x="859" y="933">L</text><text class="m" x="859" y="966">R</text><text class="m" x="857" y="972">COM</text><text class="m" x="884" y="929">CN12</text>
<text class="m" x="882" y="969.5">3F07</text>
<use href="#jmp" x="880" y="986"/><text class="m" x="876" y="983">J8</text><text class="m" x="893" y="986">HPCOM</text>
<path class="w" d="M884 986H920M876 986V990"/>
<use href="#tri" x="896" y="1008"/><text class="m" x="889" y="1021">AGND1</text>
<text class="m" x="783" y="1021">耳机：短接J6、J7、J8，断开J9</text>
<text class="m" x="783" y="1028">线路输出：短接J9，断开J6、J7、J8</text>

<!-- BLOCK 9 -->
<rect class="k" x="29.7" y="963.6" width="299.6" height="400.4"/>
<text x="36" y="973.6">LCD1  TFT 240*320/320*480</text>
<rect class="c" x="36" y="976.8" width="26.4" height="273.2"/>
<text class="p m e" x="59" y="981.8">XL</text><text class="p m e" x="59" y="988.5">YU</text><text class="p m e" x="59" y="995.2">XR</text><text class="p m e" x="59" y="1001.9">YD</text><text class="p m e" x="59" y="1008.6">GND</text><text class="p m e" x="59" y="1015.3">VCC</text><text class="p m e" x="59" y="1022">VCI</text><text class="p m e" x="59" y="1028.7">FMARK</text><text class="p m e" x="59" y="1035.4">CS</text><text class="p m e" x="59" y="1042.1">RS</text><text class="p m e" x="59" y="1048.8">WR</text><text class="p m e" x="59" y="1055.5">RD</text><text class="p m e" x="59" y="1062.2">SDI</text><text class="p m e" x="59" y="1068.9">SDO</text><text class="p m e" x="59" y="1075.6">RESET</text><text class="p m e" x="59" y="1082.3">GND</text>
<text class="p m e" x="59" y="1089">DB0</text><text class="p m e" x="59" y="1095.7">DB1</text><text class="p m e" x="59" y="1102.4">DB2</text><text class="p m e" x="59" y="1109.1">DB3</text><text class="p m e" x="59" y="1115.8">DB4</text><text class="p m e" x="59" y="1122.5">DB5</text><text class="p m e" x="59" y="1129.2">DB6</text><text class="p m e" x="59" y="1135.9">DB7</text><text class="p m e" x="59" y="1142.6">DB8</text><text class="p m e" x="59" y="1149.3">DB9</text><text class="p m e" x="59" y="1156">DB10</text><text class="p m e" x="59" y="1162.7">DB11</text><text class="p m e" x="59" y="1169.4">DB12</text><text class="p m e" x="59" y="1176.1">DB13</text><text class="p m e" x="59" y="1182.8">DB14</text><text class="p m e" x="59" y="1189.5">DB15</text>
<text class="p m e" x="59" y="1196.2">A</text><text class="p m e" x="59" y="1202.9">K</text><text class="p m e" x="59" y="1209.6">K</text><text class="p m e" x="59" y="1216.3">K</text><text class="p m e" x="59" y="1223">GND</text><text class="p m e" x="59" y="1229.7">IM0</text><text class="p m e" x="59" y="1236.4">IM1</text><text class="p m e" x="59" y="1243.1">IM2</text>
<path class="c" d="M62.4 979.8h11M62.4 986.5h11M62.4 993.2h11M62.4 999.9h11M62.4 1006.6h11M62.4 1013.3h11M62.4 1020h11M62.4 1026.7h11M62.4 1033.4h11M62.4 1040.1h11M62.4 1046.8h11M62.4 1053.5h11M62.4 1060.2h11M62.4 1066.9h11M62.4 1073.6h11M62.4 1080.3h11M62.4 1087h11M62.4 1093.7h11M62.4 1100.4h11M62.4 1107.1h11M62.4 1113.8h11M62.4 1120.5h11M62.4 1127.2h11M62.4 1133.9h11M62.4 1140.6h11M62.4 1147.3h11M62.4 1154h11M62.4 1160.7h11M62.4 1167.4h11M62.4 1174.1h11M62.4 1180.8h11M62.4 1187.5h11M62.4 1194.2h11M62.4 1200.9h11M62.4 1207.6h11M62.4 1214.3h11M62.4 1221h11M62.4 1227.7h11M62.4 1234.4h11M62.4 1241.1h11"/>
<path class="w" d="M73.4 979.8H97M73.4 986.5H97M73.4 993.2H97M73.4 999.9H97M73.4 1006.6H104M73.4 1013.3H104M73.4 1020H104M73.4 1033.4H97M73.4 1040.1H97M73.4 1046.8H97M73.4 1053.5H97M73.4 1060.2H110M73.4 1073.6H97M73.4 1080.3H110M73.4 1087H97M73.4 1093.7H97M73.4 1100.4H97M73.4 1107.1H97M73.4 1113.8H97M73.4 1120.5H97M73.4 1127.2H97M73.4 1133.9H97M73.4 1140.6H97M73.4 1147.3H97M73.4 1154H97M73.4 1160.7H97M73.4 1167.4H97M73.4 1174.1H97M73.4 1180.8H97M73.4 1187.5H97M73.4 1194.2H104M73.4 1200.9H97M73.4 1207.6H97M73.4 1214.3H97M73.4 1221H104M73.4 1227.7H97M73.4 1234.4H97M73.4 1241.1H97"/>
<text class="p s" x="64" y="978.8">1</text><text class="p s" x="64" y="985.5">2</text><text class="p s" x="64" y="992.2">3</text><text class="p s" x="64" y="998.9">4</text><text class="p s" x="64" y="1005.6">5</text><text class="p s" x="64" y="1012.3">6</text><text class="p s" x="64" y="1019">7</text><text class="p s" x="64" y="1025.7">8</text><text class="p s" x="64" y="1032.4">9</text><text class="p s" x="64" y="1039.1">10</text><text class="p s" x="64" y="1045.8">11</text><text class="p s" x="64" y="1052.5">12</text><text class="p s" x="64" y="1059.2">13</text><text class="p s" x="64" y="1065.9">14</text><text class="p s" x="64" y="1072.6">15</text><text class="p s" x="64" y="1079.3">16</text><text class="p s" x="64" y="1086">17</text><text class="p s" x="64" y="1092.7">18</text><text class="p s" x="64" y="1099.4">19</text><text class="p s" x="64" y="1106.1">20</text><text class="p s" x="64" y="1112.8">21</text><text class="p s" x="64" y="1119.5">22</text><text class="p s" x="64" y="1126.2">23</text><text class="p s" x="64" y="1132.9">24</text><text class="p s" x="64" y="1139.6">25</text><text class="p s" x="64" y="1146.3">26</text><text class="p s" x="64" y="1153">27</text><text class="p s" x="64" y="1159.7">28</text><text class="p s" x="64" y="1166.4">29</text><text class="p s" x="64" y="1173.1">30</text><text class="p s" x="64" y="1179.8">31</text><text class="p s" x="64" y="1186.5">32</text><text class="p s" x="64" y="1193.2">33</text><text class="p s" x="64" y="1199.9">34</text><text class="p s" x="64" y="1206.6">35</text><text class="p s" x="64" y="1213.3">36</text><text class="p s" x="64" y="1220">37</text><text class="p s" x="64" y="1226.7">38</text><text class="p s" x="64" y="1233.4">39</text><text class="p s" x="64" y="1240.1">40</text>
<text class="m" x="75.8" y="978.8">XL</text><text class="m" x="75.8" y="985.5">YU</text><text class="m" x="75.8" y="992.2">XR</text><text class="m" x="75.8" y="998.9">YD</text><text class="m" x="75.8" y="1032.4">P35</text><text class="m" x="96" y="1032.4">LCD_CS</text><text class="m" x="75.8" y="1039.1">P45</text><text class="m" x="96" y="1039.1">RS</text><text class="m" x="75.8" y="1045.8">P36</text><text class="m" x="96" y="1045.8">WR_2</text><text class="m" x="75.8" y="1052.5">P37</text><text class="m" x="96" y="1052.5">RD_2</text><text class="m" x="75.8" y="1072.6">P47</text><text class="m" x="96" y="1072.6">RES</text>
<text class="m" x="75.8" y="1086">DB0</text><text class="m" x="75.8" y="1092.7">DB1</text><text class="m" x="75.8" y="1099.4">DB2</text><text class="m" x="75.8" y="1106.1">DB3</text><text class="m" x="75.8" y="1112.8">DB4</text><text class="m" x="75.8" y="1119.5">DB5</text><text class="m" x="75.8" y="1126.2">DB6</text><text class="m" x="75.8" y="1132.9">DB7</text><text class="m" x="75.8" y="1139.6">DB8</text><text class="m" x="75.8" y="1146.3">DB9</text><text class="m" x="75.8" y="1153">DB10</text><text class="m" x="75.8" y="1159.7">DB11</text><text class="m" x="75.8" y="1166.4">DB12</text><text class="m" x="75.8" y="1173.1">DB13</text><text class="m" x="75.8" y="1179.8">DB14</text><text class="m" x="75.8" y="1186.5">DB15</text>
<text class="m" x="75.8" y="1199.9">K</text><text class="m" x="75.8" y="1206.6">K</text><text class="m" x="75.8" y="1213.3">K</text><text class="m" x="75.8" y="1226.7">IM0</text><text class="m" x="75.8" y="1233.4">IM1</text><text class="m" x="75.8" y="1240.1">IM2</text>
<use href="#xx" x="75" y="1026.7"/><use href="#xx" x="75" y="1066.9"/>
<use href="#gbar" x="104" y="1009"/><text class="m" x="111" y="1008.5">GND</text><text class="m" x="104" y="1015.3">VCC+3.3V</text><text class="m" x="104" y="1022">VCC+3.3V</text>
<use href="#gbar" x="110" y="1060.2"/><text class="m" x="115" y="1062">GND</text><use href="#gbar" x="110" y="1080.3"/><text class="m" x="115" y="1082">GND</text>
<path class="c" d="M104 1190v8"/><text class="m" x="105" y="1196.5">VCC+3.3V</text><use href="#gbar" x="104" y="1221"/><text class="m" x="111" y="1223">GND</text>
<text x="128.6" y="972.2">VCC+3.3V</text><text x="163" y="974">电阻触摸屏ADC检测</text>
<path class="c" d="M138.6 975h8M142.7 975V982.6"/>
<path class="w" d="M142.7 982.6H224.4M142.7 982.6V995M142.7 1003V1016.3H224.4M170 982.6V995M170 1003V1016.3M196.2 986.5H224.4M196.2 993.2H224.4M196.2 999.9H224.4M196.2 1006.6H224.4M215 1016.3V1029H224.4M215 1022.9H224.4"/>
<use href="#capv" x="142.7" y="999.5"/><use href="#capv" x="170" y="999.5"/>
<text class="m" x="145.5" y="999">C21</text><text class="m" x="145.5" y="1006">22u</text><text class="m" x="172.8" y="999">C22</text><text class="m" x="172.8" y="1006">0.1u</text>
<use href="#dot" x="142.7" y="982.6"/><use href="#dot" x="170" y="1016.3"/><use href="#dot" x="215" y="1016.3"/><use href="#dot" x="215" y="1022.9"/>
<text class="m" x="196.2" y="985.5">XR</text><text class="m" x="196.2" y="992.2">YD</text><text class="m" x="196.2" y="998.9">XL</text><text class="m" x="196.2" y="1005.6">YU</text>
<text class="m" x="193" y="1031">GND</text><use href="#gbar" x="208" y="1029"/>
<text x="229.7" y="973.6">IC6    XPT2046</text>
<rect class="c" x="229.7" y="976.3" width="46.8" height="58.6"/>
<path class="c" d="M224.4 979.8H229.7M224.4 986.5H229.7M224.4 993.2H229.7M224.4 999.9H229.7M224.4 1006.6H229.7M224.4 1013.3H229.7M224.4 1020H229.7M224.4 1026.7H229.7M276.5 979.8H288M276.5 986.5H288M276.5 993.2H288M276.5 999.9H288M276.5 1006.6H288M276.5 1013.3H288M276.5 1020H288M276.5 1026.7H288"/>
<text class="p m" x="232" y="982.3">VCC  DCLK</text><text class="p m" x="232" y="989">XP</text><text class="p m e" x="274.5" y="989">CS</text><text class="p m" x="232" y="995.7">YP</text><text class="p m e" x="274.5" y="995.7">DIN</text><text class="p m" x="232" y="1002.4">XN</text><text class="p m e" x="274.5" y="1002.4">BUSY</text><text class="p m" x="232" y="1009.1">YN</text><text class="p m e" x="274.5" y="1009.1">DOUT</text><text class="p m" x="232" y="1015.8">GNDPENIRQ</text><text class="p m" x="232" y="1022.5">VBAT IOVDD</text><text class="p m" x="232" y="1029.2">AUX</text><text class="p m e" x="274.5" y="1029.2">VREF</text>
<text class="p s e" x="228" y="978.8">1</text><text class="p s e" x="228" y="985.5">2</text><text class="p s e" x="228" y="992.2">3</text><text class="p s e" x="228" y="998.9">4</text><text class="p s e" x="228" y="1005.6">5</text><text class="p s e" x="228" y="1012.3">6</text><text class="p s e" x="228" y="1019">7</text><text class="p s e" x="228" y="1025.7">8</text><text class="p s" x="279" y="978.8">16</text><text class="p s" x="279" y="985.5">15</text><text class="p s" x="279" y="992.2">14</text><text class="p s" x="279" y="998.9">13</text><text class="p s" x="279" y="1005.6">12</text><text class="p s" x="279" y="1012.3">11</text><text class="p s" x="279" y="1019">10</text><text class="p s" x="279" y="1025.7">9</text>
<path class="w" d="M288 979.8H325M288 986.5H325M288 993.2H325M288 1006.6H325M288 1013.3H302V1040"/>
<text class="m" x="289.5" y="978.8">P32_T_SCLK</text><text class="m" x="289.5" y="985.5">P35_T_CS</text><text class="m" x="289.5" y="992.2">P33_T_MOSI</text><text class="m" x="289.5" y="1005.6">P34_T_MISO</text><use href="#xx" x="289" y="999.9"/>
<text class="m" x="275.4" y="1042.5">VCC+3.3V</text><text class="m" x="303" y="1042.5">J10</text>
<path class="w" d="M250.1 1054V1186"/>
<path class="c" d="M152 1054H171M177 1054H190M205 1054H225M231 1054H250.1M152 1060.7H171M177 1060.7H190M205 1060.7H225M231 1060.7H250.1M152 1067.4H171M177 1067.4H190M205 1067.4H225M231 1067.4H250.1M152 1074.1H171M177 1074.1H190M205 1074.1H225M231 1074.1H250.1M152 1080.8H171M177 1080.8H190M205 1080.8H225M231 1080.8H250.1M152 1087.5H171M177 1087.5H190M205 1087.5H225M231 1087.5H250.1M152 1094.2H171M177 1094.2H190M205 1094.2H225M231 1094.2H250.1M152 1100.9H171M177 1100.9H190M205 1100.9H225M231 1100.9H250.1M152 1107.6H171M177 1107.6H190M205 1107.6H225M231 1107.6H250.1M152 1114.3H171M177 1114.3H190M205 1114.3H225M231 1114.3H250.1M152 1121H171M177 1121H190M205 1121H225M231 1121H250.1M152 1127.7H171M177 1127.7H190M205 1127.7H225M231 1127.7H250.1M152 1134.4H171M177 1134.4H190M205 1134.4H225M231 1134.4H250.1M152 1141.1H171M177 1141.1H190M205 1141.1H225M231 1141.1H250.1M152 1147.8H171M177 1147.8H190M205 1147.8H225M231 1147.8H250.1M152 1154.5H171M177 1154.5H190M205 1154.5H225M231 1154.5H250.1M130 1161.2H171M177 1161.2H190M205 1161.2H225M231 1161.2H250.1M130 1167.9H171M177 1167.9H190M205 1167.9H225M231 1167.9H250.1M130 1174.6H171M177 1174.6H190M205 1174.6H225M231 1174.6H250.1"/>
<path class="c" d="M171 1054a3 3 0 0 1 6 0M171 1060.7a3 3 0 0 1 6 0M171 1067.4a3 3 0 0 1 6 0M171 1074.1a3 3 0 0 1 6 0M171 1080.8a3 3 0 0 1 6 0M171 1087.5a3 3 0 0 1 6 0M171 1094.2a3 3 0 0 1 6 0M171 1100.9a3 3 0 0 1 6 0M171 1107.6a3 3 0 0 1 6 0M171 1114.3a3 3 0 0 1 6 0M171 1121a3 3 0 0 1 6 0M171 1127.7a3 3 0 0 1 6 0M171 1134.4a3 3 0 0 1 6 0M171 1141.1a3 3 0 0 1 6 0M171 1147.8a3 3 0 0 1 6 0M171 1154.5a3 3 0 0 1 6 0M171 1161.2a3 3 0 0 1 6 0M171 1167.9a3 3 0 0 1 6 0M171 1174.6a3 3 0 0 1 6 0M225 1054a3 3 0 0 1 6 0M225 1060.7a3 3 0 0 1 6 0M225 1067.4a3 3 0 0 1 6 0M225 1074.1a3 3 0 0 1 6 0M225 1080.8a3 3 0 0 1 6 0M225 1087.5a3 3 0 0 1 6 0M225 1094.2a3 3 0 0 1 6 0M225 1100.9a3 3 0 0 1 6 0M225 1107.6a3 3 0 0 1 6 0M225 1114.3a3 3 0 0 1 6 0M225 1121a3 3 0 0 1 6 0M225 1127.7a3 3 0 0 1 6 0M225 1134.4a3 3 0 0 1 6 0M225 1141.1a3 3 0 0 1 6 0M225 1147.8a3 3 0 0 1 6 0M225 1154.5a3 3 0 0 1 6 0M225 1161.2a3 3 0 0 1 6 0M225 1167.9a3 3 0 0 1 6 0M225 1174.6a3 3 0 0 1 6 0"/>
<text class="m" x="142.7" y="1053">P20</text><text class="m" x="142.7" y="1059.7">P21</text><text class="m" x="142.7" y="1066.4">P22</text><text class="m" x="142.7" y="1073.1">P23</text><text class="m" x="142.7" y="1079.8">P24</text><text class="m" x="142.7" y="1086.5">P25</text><text class="m" x="142.7" y="1093.2">P26</text><text class="m" x="142.7" y="1099.9">P27</text><text class="m" x="142.7" y="1106.6">P20</text><text class="m" x="142.7" y="1113.3">P21</text><text class="m" x="142.7" y="1120">P22</text><text class="m" x="142.7" y="1126.7">P23</text><text class="m" x="142.7" y="1133.4">P24</text><text class="m" x="142.7" y="1140.1">P25</text><text class="m" x="142.7" y="1146.8">P26</text><text class="m" x="142.7" y="1153.5">P27</text>
<text class="m" x="105" y="1162">VCC+3.3V</text><text class="m" x="105" y="1168.7">VCC+3.3V</text><text class="m" x="105" y="1175.4">VCC+3.3V</text>
<text class="m" x="196.2" y="1053">DB0</text><text class="m" x="196.2" y="1059.7">DB1</text><text class="m" x="196.2" y="1066.4">DB2</text><text class="m" x="196.2" y="1073.1">DB3</text><text class="m" x="196.2" y="1079.8">DB4</text><text class="m" x="196.2" y="1086.5">DB5</text><text class="m" x="196.2" y="1093.2">DB6</text><text class="m" x="196.2" y="1099.9">DB7</text><text class="m" x="196.2" y="1106.6">DB8</text><text class="m" x="196.2" y="1113.3">DB9</text><text class="m" x="196.2" y="1120">DB10</text><text class="m" x="196.2" y="1126.7">DB11</text><text class="m" x="196.2" y="1133.4">DB12</text><text class="m" x="196.2" y="1140.1">DB13</text><text class="m" x="196.2" y="1146.8">DB14</text><text class="m" x="196.2" y="1153.5">DB15</text><text class="m" x="196.2" y="1160.2">IM0</text><text class="m" x="196.2" y="1166.9">IM1</text><text class="m" x="196.2" y="1173.6">IM2</text>
<text class="m" x="170" y="1049">J11</text><text class="m" x="224" y="1049">J12</text>
<use href="#gnd" x="250.1" y="1186"/><text class="m" x="244" y="1197">GND</text>
<text class="m" x="263.1" y="1054.5">跳线：</text><text class="m" x="290" y="1054.5">P46_T_IRQ</text>
<text class="m" x="263.1" y="1067.5">HX8369 480*800</text><text class="m" x="263.1" y="1074.2">低8位短接</text><text class="m" x="263.1" y="1080.9">高8位接GND</text><text class="m" x="263.1" y="1087.6">IM0接GND</text><text class="m" x="263.1" y="1094.3">IM1接GND</text><text class="m" x="263.1" y="1101">IM2接VCC</text>
<text class="m" x="263.1" y="1114.4">ILI9488/ST7796 320*480</text><text class="m" x="263.1" y="1121.1">低8位短接</text><text class="m" x="263.1" y="1127.8">高8位接GND</text><text class="m" x="263.1" y="1134.5">IM0接VCC</text><text class="m" x="263.1" y="1141.2">IM1接VCC</text><text class="m" x="263.1" y="1147.9">IM2接GND</text>
<text class="m" x="263.1" y="1161.2">ILI9341/ST7789 240*320</text><text class="m" x="263.1" y="1167.9">高8位短接</text><text class="m" x="263.1" y="1174.6">低8位接GND</text><text class="m" x="263.1" y="1181.3">IM0接VCC</text><text class="m" x="263.1" y="1188">IM1接GND</text><text class="m" x="263.1" y="1194.7">IM2接GND</text>
<text class="m" x="149.7" y="1215.2">背光限流电阻：</text>
<text class="m" x="149.7" y="1221.7">2.4"焊4个、2.8"焊4个、3.2"焊5个、3.5"焊6个、4.0"焊8个</text>
<text class="m" x="149.7" y="1228.3">使用PWM控制背光时短接J44断开J45</text>
<text class="m" x="149.7" y="1234.8">不使用PWM控制背光时短接J45断开J44（背光常亮）</text>
<text class="m" x="149.7" y="1241.6">使用PWM控制背光时IO口设置为推挽</text>
<text class="m" x="150" y="1254">K</text>
<path class="w" d="M150 1256.4H310.3M169.8 1284.2H310.3M288.8 1284.2V1297"/>
<path class="w" d="M169.8 1256.4V1265M189.9 1256.4V1265M209.9 1256.4V1265M230 1256.4V1265M250.1 1256.4V1265M270.2 1256.4V1265M290.2 1256.4V1265M310.3 1256.4V1265M169.8 1275V1284.2M189.9 1275V1284.2M209.9 1275V1284.2M230 1275V1284.2M250.1 1275V1284.2M270.2 1275V1284.2M290.2 1275V1284.2M310.3 1275V1284.2"/>
<use href="#rv" x="169.8" y="1265"/><use href="#rv" x="189.9" y="1265"/><use href="#rv" x="209.9" y="1265"/><use href="#rv" x="230" y="1265"/><use href="#rv" x="250.1" y="1265"/><use href="#rv" x="270.2" y="1265"/><use href="#rv" x="290.2" y="1265"/><use href="#rv" x="310.3" y="1265"/>
<text class="m" x="171.5" y="1267">R102</text><text class="m" x="171.5" y="1273.5">39R</text><text class="m" x="191.6" y="1267">R103</text><text class="m" x="191.6" y="1273.5">39R</text><text class="m" x="211.6" y="1267">R104</text><text class="m" x="211.6" y="1273.5">39R</text><text class="m" x="231.7" y="1267">R105</text><text class="m" x="231.7" y="1273.5">39R</text><text class="m" x="251.8" y="1267">R106</text><text class="m" x="251.8" y="1273.5">39R</text><text class="m" x="271.9" y="1267">R107</text><text class="m" x="271.9" y="1273.5">39R</text><text class="m" x="291.9" y="1267">R108</text><text class="m" x="291.9" y="1273.5">39R</text><text class="m" x="312" y="1267">R109</text><text class="m" x="312" y="1273.5">39R</text>
<use href="#dot" x="169.8" y="1256.4"/><use href="#dot" x="189.9" y="1256.4"/><use href="#dot" x="209.9" y="1256.4"/><use href="#dot" x="230" y="1256.4"/><use href="#dot" x="250.1" y="1256.4"/><use href="#dot" x="270.2" y="1256.4"/><use href="#dot" x="290.2" y="1256.4"/><use href="#dot" x="169.8" y="1284.2"/><use href="#dot" x="189.9" y="1284.2"/><use href="#dot" x="209.9" y="1284.2"/><use href="#dot" x="230" y="1284.2"/><use href="#dot" x="250.1" y="1284.2"/><use href="#dot" x="270.2" y="1284.2"/><use href="#dot" x="290.2" y="1284.2"/>
<text class="m" x="149.7" y="1300.6">P07</text><text class="m" x="149.7" y="1307.4">PWM8/PWM4N_2</text>
<path class="w" d="M149.7 1303.3H219.6M225.6 1303.3H243M253 1303.3H283M243 1303.3V1315.6H225.6M219.6 1315.6H177"/>
<use href="#jmp" x="222.6" y="1303.3"/><use href="#jmp" x="222.6" y="1315.6"/>
<text class="m" x="218" y="1310.5">J50</text><text class="m" x="218" y="1323">J51</text>
<use href="#rh" x="250" y="1303.3"/><text class="m" x="250" y="1299">R110</text><text class="m" x="252" y="1310">1K</text>
<use href="#dot" x="243" y="1303.3"/>
<path class="c" d="M283 1298v11M283 1301l5.8-4V1284.2M283 1305l5.8 4V1322M287 1307l1.8 2-2.5.3"/><text class="m" x="291" y="1302">Q1</text><text class="m" x="291" y="1309">2SC8050</text>
<text class="m" x="165.6" y="1318">VCC+3.3V</text><path class="c" d="M177 1312v7"/>
<use href="#gnd" x="288.8" y="1322"/><text class="m" x="284" y="1343">GND</text>
<rect class="c" x="36" y="1263.8" width="12.3" height="73"/>
<text class="m" x="36" y="1261">CN14</text><text class="m" x="75.8" y="1260.2">SPI</text><text class="m" x="97" y="1260.2">I2C</text>
<path class="c" d="M48.3 1267h8M48.3 1273.7h8M48.3 1280.4h8M48.3 1287.1h8M48.3 1293.8h8M48.3 1300.5h8M48.3 1307.2h8M48.3 1313.9h8M48.3 1320.6h8M48.3 1327.3h8"/>
<path class="w" d="M56.3 1267H116.3M56.3 1273.7H116.3M56.3 1280.4H123.3M56.3 1287.1H123.3M56.3 1293.8H116.3M56.3 1300.5H116.3M56.3 1307.2H116.3M56.3 1313.9H116.3M56.3 1320.6H116.3M56.3 1327.3H116.3"/>
<text class="p s" x="50" y="1266">1</text><text class="p s" x="50" y="1272.7">2</text><text class="p s" x="50" y="1279.4">3</text><text class="p s" x="50" y="1286.1">4</text><text class="p s" x="50" y="1292.8">5</text><text class="p s" x="50" y="1299.5">6</text><text class="p s" x="50" y="1306.2">7</text><text class="p s" x="50" y="1312.9">8</text><text class="p s" x="50" y="1319.6">9</text><text class="p s" x="50" y="1326.3">10</text>
<text class="m" x="62.8" y="1266">P33</text><text class="m" x="96.2" y="1266">SDA</text><text class="m" x="62.8" y="1272.7">P32</text><text class="m" x="96.2" y="1272.7">SCL</text><text class="m" x="76" y="1279.4">GND</text><text class="m" x="96.2" y="1279.4">GND</text><text class="m" x="76" y="1286.1">VCC</text><text class="m" x="96.2" y="1286.1">VCC</text><text class="m" x="62.8" y="1292.8">P32 SCLK</text><text class="m" x="96.2" y="1292.8">SCL</text><text class="m" x="62.8" y="1299.5">P33 MOSI</text><text class="m" x="96.2" y="1299.5">SDA</text><text class="m" x="62.8" y="1306.2">P47 RES</text><text class="m" x="62.8" y="1312.9">P05 DC</text><text class="m" x="62.8" y="1319.6">P35 LCD_CS</text><text class="m" x="62.8" y="1326.3">P07 BKL</text>
<use href="#gbar" x="123.3" y="1283.7"/><text class="m" x="128" y="1282.5">GND</text><text class="m" x="124" y="1290">VCC+3.3V</text>
<text class="m" x="36" y="1341.5">2.54-10</text><text class="m" x="62.8" y="1341.5">需要使用I2C时，P32、P33初始化时打开内部4K上拉</text>
<text class="m" x="36" y="1355">CN14在原8P标准OLED、TFT、LCD接口处新增2P用于连接另一种脚位的I2C模块（如传感器或OLED模块）</text>

<!-- BLOCK 10 -->
<rect class="k" x="342.8" y="1050" width="273.4" height="166.5"/>
<text class="m" x="372" y="1055.5">J17</text><use href="#jmp" x="375.1" y="1062"/>
<path class="c" d="M355.7 1062H372M378 1062H397M355.7 1062V1071.7M397 1062V1069"/>
<use href="#tri" x="355.7" y="1071.7"/><text class="m" x="349" y="1082">AGND2</text><use href="#gnd" x="397" y="1069"/><text class="m" x="392.5" y="1083">GND</text>
<text class="m" x="396" y="1058.5">VCC+3.3V</text><path class="c" d="M405.6 1062h8"/>
<path class="w" d="M409.6 1062V1078M409.6 1088V1112M409.6 1122V1150M409.6 1160V1190.2M355.7 1085H367V1190.2H575M355.7 1085V1089M355.7 1097V1104M376.9 1107H409.6M376.9 1107V1112M376.9 1122V1135.5H363.1M363.1 1141.5H430.4M389.9 1141.5V1168M389.9 1176V1190.2M395.8 1135.5H466M430.4 1069.8H436M444.4 1069.8H469M479 1069.8H510M520 1069.8H556.5M566.5 1069.8H575M430.4 1069.8V1092.5H437M447 1092.5H452V1069.8M430.4 1092.5V1108M430.4 1141.5V1156M430.4 1164V1172M430.4 1182V1190.2M496.6 1069.8V1082M496.6 1090V1096H543.4V1090M543.4 1082V1069.8M452 1108H466V1129M466 1122H470.2M466 1129H470.2M509.6 1122H530M509.6 1129H556.7M566.7 1129H575M530 1115V1156M530 1164V1190.2M530 1122V1129"/>
<use href="#caph" x="440.2" y="1069.8"/><text class="m" x="437" y="1064">C31</text><text class="m" x="437" y="1077">1n</text>
<use href="#rh" x="469" y="1069.8"/><text class="m" x="470" y="1066">R92</text><text class="m" x="470" y="1077">10K</text>
<use href="#rh" x="510" y="1069.8"/><text class="m" x="511" y="1066">R93</text><text class="m" x="511" y="1077">68K</text>
<use href="#rh" x="556.5" y="1069.8"/><text class="m" x="557" y="1066">R94</text><text class="m" x="557" y="1077">68K</text>
<use href="#capv" x="496.6" y="1086"/><text class="m" x="499" y="1085">C32</text><text class="m" x="499" y="1092">4.7n</text>
<use href="#capv" x="543.4" y="1086"/><text class="m" x="546" y="1085">C33</text><text class="m" x="546" y="1092">1n</text>
<use href="#rv" x="409.6" y="1078"/><text class="m" x="411.5" y="1083">R95</text><text class="m" x="411.5" y="1090">1K</text>
<use href="#rh" x="437" y="1092.5"/><text class="m" x="438" y="1089">R96</text><text class="m" x="438" y="1100">51K</text>
<use href="#capv" x="355.7" y="1093"/><text class="m" x="358.5" y="1092">C35</text><text class="m" x="358.5" y="1099">22u</text>
<use href="#rv" x="376.9" y="1112"/><text class="m" x="378.5" y="1117">R97</text><text class="m" x="378.5" y="1124">3K</text>
<use href="#rv" x="409.6" y="1112"/><text class="m" x="411.5" y="1117">R98</text><text class="m" x="411.5" y="1124">100K</text>
<use href="#caph" x="399.8" y="1136.5"/><text class="m" x="396" y="1131">C36</text><text class="m" x="396" y="1147">0.1u</text>
<rect class="c" x="349.7" y="1130.3" width="13.4" height="19"/><text class="m" x="349" y="1128">MIC1</text><text class="m" x="349.7" y="1155">MIC-6050</text><text class="m" x="349.7" y="1162">话筒</text>
<use href="#rv" x="409.6" y="1150"/><text class="m" x="411.5" y="1155">R100</text><text class="m" x="411.5" y="1162">100K</text>
<use href="#capv" x="430.4" y="1160"/><text class="m" x="433" y="1158">C37</text><text class="m" x="433" y="1165">1u</text>
<use href="#capv" x="389.9" y="1172"/><text class="m" x="392.5" y="1172">C40</text><text class="m" x="392.5" y="1179">10n</text>
<use href="#rv" x="430.4" y="1172"/><text class="m" x="432.5" y="1177">R101</text><text class="m" x="432.5" y="1184">1K</text>
<text class="m" x="470.2" y="1114">IC7_LMV358</text>
<rect class="c" x="470.2" y="1116.6" width="39.4" height="32.7"/>
<text class="p m" x="473" y="1124">1OUTVCC</text><text class="p m" x="473" y="1131">1IN- 2OUT</text><text class="p m" x="473" y="1138">1IN+ 2IN-</text><text class="p m" x="473" y="1145">GND 2IN+</text>
<text class="p s e" x="469" y="1121">1</text><text class="p s e" x="469" y="1128">2</text><text class="p s e" x="469" y="1135">3</text><text class="p s e" x="469" y="1142">4</text><text class="p s" x="512" y="1121">8</text><text class="p s" x="512" y="1128">7</text><text class="p s" x="512" y="1135">6</text><text class="p s" x="512" y="1142">5</text>
<text class="m" x="516" y="1113">VCC+3.3V</text>
<use href="#capv" x="530" y="1160"/><text class="m" x="532.5" y="1159">C38</text><text class="m" x="532.5" y="1166">22u</text>
<use href="#rh" x="556.7" y="1129"/><text class="m" x="557" y="1125">R99</text><text class="m" x="558" y="1136">1K</text><text class="m" x="566" y="1126">P11 ADC1</text>
<use href="#capv" x="586.6" y="1087"/><text class="m" x="589" y="1086">C34</text><text class="m" x="589" y="1093">100p</text><path class="w" d="M575 1069.8H586.6V1083M586.6 1091V1100"/>
<use href="#tri" x="575" y="1105"/><text class="m" x="570" y="1116">AGND2</text>
<use href="#capv" x="586.6" y="1160"/><text class="m" x="589" y="1159">C39</text><text class="m" x="589" y="1166">1n</text><path class="w" d="M575 1129V1190.2M586.6 1129V1156M586.6 1164V1190.2M575 1190.2H586.6"/>
<text class="m" x="470.2" y="1161">ADC录音</text><text class="m" x="470.2" y="1175">IO高阻输入</text>
<use href="#dot" x="409.6" y="1107"/><use href="#dot" x="430.4" y="1092.5"/><use href="#dot" x="452" y="1069.8"/><use href="#dot" x="496.6" y="1069.8"/><use href="#dot" x="543.4" y="1069.8"/><use href="#dot" x="389.9" y="1141.5"/><use href="#dot" x="409.6" y="1141.5"/><use href="#dot" x="430.4" y="1141.5"/><use href="#dot" x="409.6" y="1190.2"/><use href="#dot" x="389.9" y="1190.2"/><use href="#dot" x="430.4" y="1190.2"/><use href="#dot" x="456.8" y="1190.2"/><use href="#dot" x="530" y="1190.2"/><use href="#dot" x="530" y="1129"/>
<path class="w" d="M456.8 1190.2V1199.7"/><use href="#tri" x="456.8" y="1199.7"/><text class="m" x="450" y="1211">AGND2</text>

<!-- BLOCK 11 -->
<rect class="k" x="629.7" y="1050" width="46.6" height="126.7"/>
<text class="m" x="636" y="1059">Screws1</text><rect class="c" x="636" y="1062" width="9" height="10"/><text class="m" x="636" y="1079">M3</text>
<text class="m" x="636" y="1086">Screws2</text><rect class="c" x="636" y="1089" width="9" height="10"/><text class="m" x="636" y="1106">M3</text>
<text class="m" x="636" y="1113">Screws3</text><rect class="c" x="636" y="1116" width="9" height="10"/><text class="m" x="636" y="1133">M3</text>
<text class="m" x="636" y="1140.5">Screws4</text><rect class="c" x="636" y="1143.5" width="9" height="10"/><text class="m" x="636" y="1160.5">M3</text>
<text class="m" x="636" y="1169">螺丝孔</text><text class="m" x="657" y="1169">GND</text>
<path class="c" d="M645 1067H662M645 1094H662M645 1121H662M645 1148.5H662M662 1067V1157"/><use href="#gnd" x="662" y="1157"/>

<!-- BLOCK 12 -->
<rect class="k" x="342.8" y="1230.4" width="414.1" height="172.8"/>
<text class="m" x="349" y="1240">CN13</text><text class="m" x="364.7" y="1239.3">LEDVCC</text>
<rect class="c" x="349.8" y="1243.6" width="4.5" height="26.8"/>
<path class="c" d="M354.3 1250.3h8M354.3 1257h8M354.3 1263.7h8M362.3 1250.3V1244.5h3M362.3 1263.7H376.5V1270"/>
<text class="p s" x="356" y="1249">1</text><text class="p s" x="356" y="1255.7">2</text><text class="p s" x="356" y="1262.4">3</text>
<text class="m" x="349" y="1274.5">2.54-3</text><use href="#gnd" x="376.5" y="1270"/><text class="m" x="370.5" y="1282">GND</text><text class="m" x="364" y="1286">LEDVCC</text>
<path class="w" d="M362.3 1257H389.8V1263.7H406.5M389.8 1276.9H749.6M389.8 1276.9V1303.8H406.5M389.8 1316.9H749.6M389.8 1316.9V1343.8H406.5M389.8 1357H749.6M389.8 1357V1383.9H406.5"/>
<path class="w" d="M349.8 1297V1337H376.5M349.8 1297H376.5M376.5 1288V1302M376.5 1310V1342M376.5 1350V1364M356.9 1297V1302M356.9 1310V1317.2H376.5M356.9 1337V1342M356.9 1350V1357H376.5"/>
<use href="#capv" x="356.9" y="1306"/><use href="#capv" x="376.5" y="1306"/><use href="#capv" x="356.9" y="1346"/><use href="#capv" x="376.5" y="1346"/>
<text class="m" x="359" y="1308">C41</text><text class="m" x="355" y="1314">0.1u</text><text class="m" x="379" y="1308">C42</text><text class="m" x="378" y="1314">0.1u</text>
<text class="m" x="359" y="1348">C43</text><text class="m" x="355" y="1354">0.1u</text><text class="m" x="379" y="1348">C44</text><text class="m" x="378" y="1354">0.1u</text>
<use href="#dot" x="356.9" y="1297"/><use href="#dot" x="376.5" y="1297"/><use href="#dot" x="356.9" y="1337"/><use href="#dot" x="376.5" y="1317.2"/><use href="#dot" x="376.5" y="1357"/>
<use href="#gnd" x="376.5" y="1364"/><text class="m" x="371" y="1377">GND</text>
<path class="w" d="M724.1 1257H749.6V1276.9M724.1 1297.1H749.6V1316.9M724.1 1337.1H749.6V1357"/>
<g transform="translate(0,0)"><use href="#ws"/><path class="w" d="M477 1257H483.9V1263.7H493.5"/><text class="m" x="401" y="1238.5">GND</text><text class="m" x="416.5" y="1247.6">LED39</text><text class="p m" x="420" y="1258.5">GND</text><text class="p m" x="438" y="1258.5">DOUT</text><text class="p m" x="420" y="1266">DIN</text><text class="p m" x="445" y="1266">VCC</text><text class="p s" x="412" y="1256">1</text><text class="p s" x="412" y="1262.7">2</text><text class="p s" x="465" y="1256">4</text><text class="p s" x="465" y="1262.7">3</text><text class="m" x="416.5" y="1274.5">WS2812-5050-4</text><text class="m" x="464.3" y="1275.3">LEDVCC</text></g>
<g transform="translate(87,0)"><use href="#ws"/><path class="w" d="M477 1257H483.9V1263.7H493.5"/><text class="m" x="401" y="1238.5">GND</text><text class="m" x="416.5" y="1247.6">LED40</text><text class="p m" x="420" y="1258.5">GND</text><text class="p m" x="438" y="1258.5">DOUT</text><text class="p m" x="420" y="1266">DIN</text><text class="p m" x="445" y="1266">VCC</text><text class="p s" x="412" y="1256">1</text><text class="p s" x="412" y="1262.7">2</text><text class="p s" x="465" y="1256">4</text><text class="p s" x="465" y="1262.7">3</text><text class="m" x="416.5" y="1274.5">WS2812-5050-4</text><text class="m" x="464.3" y="1275.3">LEDVCC</text></g>
<g transform="translate(174,0)"><use href="#ws"/><path class="w" d="M477 1257H483.9V1263.7H493.5"/><text class="m" x="401" y="1238.5">GND</text><text class="m" x="416.5" y="1247.6">LED41</text><text class="p m" x="420" y="1258.5">GND</text><text class="p m" x="438" y="1258.5">DOUT</text><text class="p m" x="420" y="1266">DIN</text><text class="p m" x="445" y="1266">VCC</text><text class="p s" x="412" y="1256">1</text><text class="p s" x="412" y="1262.7">2</text><text class="p s" x="465" y="1256">4</text><text class="p s" x="465" y="1262.7">3</text><text class="m" x="416.5" y="1274.5">WS2812-5050-4</text><text class="m" x="464.3" y="1275.3">LEDVCC</text></g>
<g transform="translate(261,0)"><use href="#ws"/><text class="m" x="401" y="1238.5">GND</text><text class="m" x="416.5" y="1247.6">LED42</text><text class="p m" x="420" y="1258.5">GND</text><text class="p m" x="438" y="1258.5">DOUT</text><text class="p m" x="420" y="1266">DIN</text><text class="p m" x="445" y="1266">VCC</text><text class="p s" x="412" y="1256">1</text><text class="p s" x="412" y="1262.7">2</text><text class="p s" x="465" y="1256">4</text><text class="p s" x="465" y="1262.7">3</text><text class="m" x="416.5" y="1274.5">WS2812-5050-4</text><text class="m" x="464.3" y="1275.3">LEDVCC</text></g>
<g transform="translate(0,40.05)"><use href="#ws"/><path class="w" d="M477 1257H483.9V1263.7H493.5"/><text class="m" x="401" y="1238.5">GND</text><text class="m" x="416.5" y="1247.6">LED43</text><text class="p m" x="420" y="1258.5">GND</text><text class="p m" x="438" y="1258.5">DOUT</text><text class="p m" x="420" y="1266">DIN</text><text class="p m" x="445" y="1266">VCC</text><text class="p s" x="412" y="1256">1</text><text class="p s" x="412" y="1262.7">2</text><text class="p s" x="465" y="1256">4</text><text class="p s" x="465" y="1262.7">3</text><text class="m" x="416.5" y="1274.5">WS2812-5050-4</text><text class="m" x="464.3" y="1275.3">LEDVCC</text></g>
<g transform="translate(87,40.05)"><use href="#ws"/><path class="w" d="M477 1257H483.9V1263.7H493.5"/><text class="m" x="401" y="1238.5">GND</text><text class="m" x="416.5" y="1247.6">LED44</text><text class="p m" x="420" y="1258.5">GND</text><text class="p m" x="438" y="1258.5">DOUT</text><text class="p m" x="420" y="1266">DIN</text><text class="p m" x="445" y="1266">VCC</text><text class="p s" x="412" y="1256">1</text><text class="p s" x="412" y="1262.7">2</text><text class="p s" x="465" y="1256">4</text><text class="p s" x="465" y="1262.7">3</text><text class="m" x="416.5" y="1274.5">WS2812-5050-4</text><text class="m" x="464.3" y="1275.3">LEDVCC</text></g>
<g transform="translate(174,40.05)"><use href="#ws"/><path class="w" d="M477 1257H483.9V1263.7H493.5"/><text class="m" x="401" y="1238.5">GND</text><text class="m" x="416.5" y="1247.6">LED45</text><text class="p m" x="420" y="1258.5">GND</text><text class="p m" x="438" y="1258.5">DOUT</text><text class="p m" x="420" y="1266">DIN</text><text class="p m" x="445" y="1266">VCC</text><text class="p s" x="412" y="1256">1</text><text class="p s" x="412" y="1262.7">2</text><text class="p s" x="465" y="1256">4</text><text class="p s" x="465" y="1262.7">3</text><text class="m" x="416.5" y="1274.5">WS2812-5050-4</text><text class="m" x="464.3" y="1275.3">LEDVCC</text></g>
<g transform="translate(261,40.05)"><use href="#ws"/><text class="m" x="401" y="1238.5">GND</text><text class="m" x="416.5" y="1247.6">LED46</text><text class="p m" x="420" y="1258.5">GND</text><text class="p m" x="438" y="1258.5">DOUT</text><text class="p m" x="420" y="1266">DIN</text><text class="p m" x="445" y="1266">VCC</text><text class="p s" x="412" y="1256">1</text><text class="p s" x="412" y="1262.7">2</text><text class="p s" x="465" y="1256">4</text><text class="p s" x="465" y="1262.7">3</text><text class="m" x="416.5" y="1274.5">WS2812-5050-4</text><text class="m" x="464.3" y="1275.3">LEDVCC</text></g>
<g transform="translate(0,80.1)"><use href="#ws"/><path class="w" d="M477 1257H483.9V1263.7H493.5"/><text class="m" x="401" y="1238.5">GND</text><text class="m" x="416.5" y="1247.6">LED47</text><text class="p m" x="420" y="1258.5">GND</text><text class="p m" x="438" y="1258.5">DOUT</text><text class="p m" x="420" y="1266">DIN</text><text class="p m" x="445" y="1266">VCC</text><text class="p s" x="412" y="1256">1</text><text class="p s" x="412" y="1262.7">2</text><text class="p s" x="465" y="1256">4</text><text class="p s" x="465" y="1262.7">3</text><text class="m" x="416.5" y="1274.5">WS2812-5050-4</text><text class="m" x="464.3" y="1275.3">LEDVCC</text></g>
<g transform="translate(87,80.1)"><use href="#ws"/><path class="w" d="M477 1257H483.9V1263.7H493.5"/><text class="m" x="401" y="1238.5">GND</text><text class="m" x="416.5" y="1247.6">LED48</text><text class="p m" x="420" y="1258.5">GND</text><text class="p m" x="438" y="1258.5">DOUT</text><text class="p m" x="420" y="1266">DIN</text><text class="p m" x="445" y="1266">VCC</text><text class="p s" x="412" y="1256">1</text><text class="p s" x="412" y="1262.7">2</text><text class="p s" x="465" y="1256">4</text><text class="p s" x="465" y="1262.7">3</text><text class="m" x="416.5" y="1274.5">WS2812-5050-4</text><text class="m" x="464.3" y="1275.3">LEDVCC</text></g>
<g transform="translate(174,80.1)"><use href="#ws"/><path class="w" d="M477 1257H483.9V1263.7H493.5"/><text class="m" x="401" y="1238.5">GND</text><text class="m" x="416.5" y="1247.6">LED49</text><text class="p m" x="420" y="1258.5">GND</text><text class="p m" x="438" y="1258.5">DOUT</text><text class="p m" x="420" y="1266">DIN</text><text class="p m" x="445" y="1266">VCC</text><text class="p s" x="412" y="1256">1</text><text class="p s" x="412" y="1262.7">2</text><text class="p s" x="465" y="1256">4</text><text class="p s" x="465" y="1262.7">3</text><text class="m" x="416.5" y="1274.5">WS2812-5050-4</text><text class="m" x="464.3" y="1275.3">LEDVCC</text></g>
<g transform="translate(261,80.1)"><use href="#ws"/><text class="m" x="401" y="1238.5">GND</text><text class="m" x="416.5" y="1247.6">LED50</text><text class="p m" x="420" y="1258.5">GND</text><text class="p m" x="438" y="1258.5">DOUT</text><text class="p m" x="420" y="1266">DIN</text><text class="p m" x="445" y="1266">VCC</text><text class="p s" x="412" y="1256">1</text><text class="p s" x="412" y="1262.7">2</text><text class="p s" x="465" y="1256">4</text><text class="p s" x="465" y="1262.7">3</text><text class="m" x="416.5" y="1274.5">WS2812-5050-4</text><text class="m" x="464.3" y="1275.3">LEDVCC</text></g>
<g transform="translate(0,120.2)"><use href="#ws"/><path class="w" d="M477 1257H483.9V1263.7H493.5"/><text class="m" x="401" y="1238.5">GND</text><text class="m" x="416.5" y="1247.6">LED51</text><text class="p m" x="420" y="1258.5">GND</text><text class="p m" x="438" y="1258.5">DOUT</text><text class="p m" x="420" y="1266">DIN</text><text class="p m" x="445" y="1266">VCC</text><text class="p s" x="412" y="1256">1</text><text class="p s" x="412" y="1262.7">2</text><text class="p s" x="465" y="1256">4</text><text class="p s" x="465" y="1262.7">3</text><text class="m" x="416.5" y="1274.5">WS2812-5050-4</text><text class="m" x="464.3" y="1275.3">LEDVCC</text></g>
<g transform="translate(87,120.2)"><use href="#ws"/><path class="w" d="M477 1257H483.9V1263.7H493.5"/><text class="m" x="401" y="1238.5">GND</text><text class="m" x="416.5" y="1247.6">LED52</text><text class="p m" x="420" y="1258.5">GND</text><text class="p m" x="438" y="1258.5">DOUT</text><text class="p m" x="420" y="1266">DIN</text><text class="p m" x="445" y="1266">VCC</text><text class="p s" x="412" y="1256">1</text><text class="p s" x="412" y="1262.7">2</text><text class="p s" x="465" y="1256">4</text><text class="p s" x="465" y="1262.7">3</text><text class="m" x="416.5" y="1274.5">WS2812-5050-4</text><text class="m" x="464.3" y="1275.3">LEDVCC</text></g>
<g transform="translate(174,120.2)"><use href="#ws"/><path class="w" d="M477 1257H483.9V1263.7H493.5"/><text class="m" x="401" y="1238.5">GND</text><text class="m" x="416.5" y="1247.6">LED53</text><text class="p m" x="420" y="1258.5">GND</text><text class="p m" x="438" y="1258.5">DOUT</text><text class="p m" x="420" y="1266">DIN</text><text class="p m" x="445" y="1266">VCC</text><text class="p s" x="412" y="1256">1</text><text class="p s" x="412" y="1262.7">2</text><text class="p s" x="465" y="1256">4</text><text class="p s" x="465" y="1262.7">3</text><text class="m" x="416.5" y="1274.5">WS2812-5050-4</text><text class="m" x="464.3" y="1275.3">LEDVCC</text></g>
<g transform="translate(261,120.2)"><use href="#ws"/><use href="#xx" x="479" y="1257"/><text class="m" x="401" y="1238.5">GND</text><text class="m" x="416.5" y="1247.6">LED54</text><text class="p m" x="420" y="1258.5">GND</text><text class="p m" x="438" y="1258.5">DOUT</text><text class="p m" x="420" y="1266">DIN</text><text class="p m" x="445" y="1266">VCC</text><text class="p s" x="412" y="1256">1</text><text class="p s" x="412" y="1262.7">2</text><text class="p s" x="465" y="1256">4</text><text class="p s" x="465" y="1262.7">3</text><text class="m" x="416.5" y="1274.5">WS2812-5050-4</text><text class="m" x="464.3" y="1277">LEDVCC</text></g>
</svg></body></html>
